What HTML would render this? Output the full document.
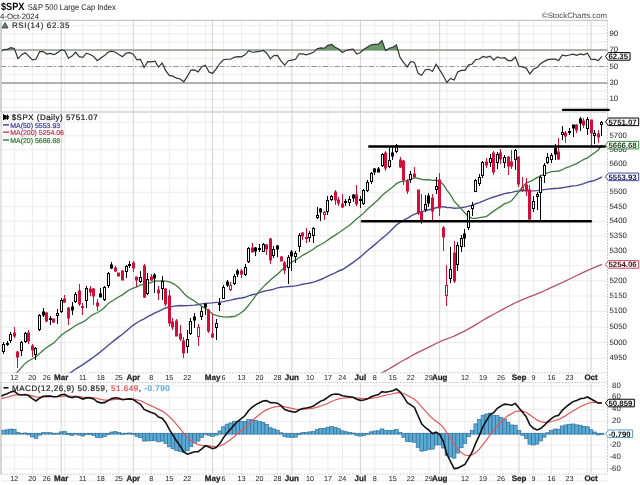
<!DOCTYPE html><html><head><meta charset="utf-8"><style>html,body{margin:0;padding:0;background:#fff;overflow:hidden}svg{display:block;filter:blur(0.5px)}</style></head><body><svg width="640" height="485" viewBox="0 0 640 485" text-rendering="geometricPrecision"><rect x="0" y="0" width="640" height="485" fill="#fff"/><line x1="1.0" y1="107.40" x2="607.5" y2="107.40" stroke="#ebebeb" stroke-width="1"/><line x1="1.0" y1="99.22" x2="607.5" y2="99.22" stroke="#ebebeb" stroke-width="1"/><line x1="1.0" y1="91.04" x2="607.5" y2="91.04" stroke="#ebebeb" stroke-width="1"/><line x1="1.0" y1="82.86" x2="607.5" y2="82.86" stroke="#ebebeb" stroke-width="1"/><line x1="1.0" y1="74.68" x2="607.5" y2="74.68" stroke="#ebebeb" stroke-width="1"/><line x1="1.0" y1="66.50" x2="607.5" y2="66.50" stroke="#ebebeb" stroke-width="1"/><line x1="1.0" y1="58.32" x2="607.5" y2="58.32" stroke="#ebebeb" stroke-width="1"/><line x1="1.0" y1="50.14" x2="607.5" y2="50.14" stroke="#ebebeb" stroke-width="1"/><line x1="1.0" y1="41.96" x2="607.5" y2="41.96" stroke="#ebebeb" stroke-width="1"/><line x1="1.0" y1="33.78" x2="607.5" y2="33.78" stroke="#ebebeb" stroke-width="1"/><line x1="1.0" y1="25.60" x2="607.5" y2="25.60" stroke="#ebebeb" stroke-width="1"/><line x1="14.35" y1="20.3" x2="14.35" y2="112.0" stroke="#ebebeb" stroke-width="1"/><line x1="32.37" y1="20.3" x2="32.37" y2="112.0" stroke="#ebebeb" stroke-width="1"/><line x1="46.79" y1="20.3" x2="46.79" y2="112.0" stroke="#ebebeb" stroke-width="1"/><line x1="64.81" y1="20.3" x2="64.81" y2="112.0" stroke="#ebebeb" stroke-width="1"/><line x1="82.84" y1="20.3" x2="82.84" y2="112.0" stroke="#ebebeb" stroke-width="1"/><line x1="100.86" y1="20.3" x2="100.86" y2="112.0" stroke="#ebebeb" stroke-width="1"/><line x1="118.88" y1="20.3" x2="118.88" y2="112.0" stroke="#ebebeb" stroke-width="1"/><line x1="151.32" y1="20.3" x2="151.32" y2="112.0" stroke="#ebebeb" stroke-width="1"/><line x1="169.34" y1="20.3" x2="169.34" y2="112.0" stroke="#ebebeb" stroke-width="1"/><line x1="187.37" y1="20.3" x2="187.37" y2="112.0" stroke="#ebebeb" stroke-width="1"/><line x1="205.39" y1="20.3" x2="205.39" y2="112.0" stroke="#ebebeb" stroke-width="1"/><line x1="223.41" y1="20.3" x2="223.41" y2="112.0" stroke="#ebebeb" stroke-width="1"/><line x1="241.43" y1="20.3" x2="241.43" y2="112.0" stroke="#ebebeb" stroke-width="1"/><line x1="259.46" y1="20.3" x2="259.46" y2="112.0" stroke="#ebebeb" stroke-width="1"/><line x1="277.48" y1="20.3" x2="277.48" y2="112.0" stroke="#ebebeb" stroke-width="1"/><line x1="309.92" y1="20.3" x2="309.92" y2="112.0" stroke="#ebebeb" stroke-width="1"/><line x1="327.94" y1="20.3" x2="327.94" y2="112.0" stroke="#ebebeb" stroke-width="1"/><line x1="342.36" y1="20.3" x2="342.36" y2="112.0" stroke="#ebebeb" stroke-width="1"/><line x1="374.80" y1="20.3" x2="374.80" y2="112.0" stroke="#ebebeb" stroke-width="1"/><line x1="392.82" y1="20.3" x2="392.82" y2="112.0" stroke="#ebebeb" stroke-width="1"/><line x1="410.85" y1="20.3" x2="410.85" y2="112.0" stroke="#ebebeb" stroke-width="1"/><line x1="428.87" y1="20.3" x2="428.87" y2="112.0" stroke="#ebebeb" stroke-width="1"/><line x1="446.89" y1="20.3" x2="446.89" y2="112.0" stroke="#ebebeb" stroke-width="1"/><line x1="464.91" y1="20.3" x2="464.91" y2="112.0" stroke="#ebebeb" stroke-width="1"/><line x1="482.94" y1="20.3" x2="482.94" y2="112.0" stroke="#ebebeb" stroke-width="1"/><line x1="500.96" y1="20.3" x2="500.96" y2="112.0" stroke="#ebebeb" stroke-width="1"/><line x1="533.40" y1="20.3" x2="533.40" y2="112.0" stroke="#ebebeb" stroke-width="1"/><line x1="551.42" y1="20.3" x2="551.42" y2="112.0" stroke="#ebebeb" stroke-width="1"/><line x1="569.44" y1="20.3" x2="569.44" y2="112.0" stroke="#ebebeb" stroke-width="1"/><line x1="587.47" y1="20.3" x2="587.47" y2="112.0" stroke="#ebebeb" stroke-width="1"/><line x1="61.21" y1="20.3" x2="61.21" y2="112.0" stroke="#d2d2d2" stroke-width="1"/><line x1="133.30" y1="20.3" x2="133.30" y2="112.0" stroke="#d2d2d2" stroke-width="1"/><line x1="212.60" y1="20.3" x2="212.60" y2="112.0" stroke="#d2d2d2" stroke-width="1"/><line x1="291.90" y1="20.3" x2="291.90" y2="112.0" stroke="#d2d2d2" stroke-width="1"/><line x1="360.38" y1="20.3" x2="360.38" y2="112.0" stroke="#d2d2d2" stroke-width="1"/><line x1="439.68" y1="20.3" x2="439.68" y2="112.0" stroke="#d2d2d2" stroke-width="1"/><line x1="518.98" y1="20.3" x2="518.98" y2="112.0" stroke="#d2d2d2" stroke-width="1"/><line x1="591.07" y1="20.3" x2="591.07" y2="112.0" stroke="#d2d2d2" stroke-width="1"/><line x1="1.0" y1="50" x2="607.5" y2="50" stroke="#b0b0b0" stroke-width="2"/><line x1="1.0" y1="83" x2="607.5" y2="83" stroke="#b0b0b0" stroke-width="2"/><line x1="1.0" y1="66.50" x2="607.5" y2="66.50" stroke="#909090" stroke-width="1" stroke-dasharray="5,2.5,1.5,2.5"/><clipPath id="c70"><rect x="1.0" y="20.3" width="606.5" height="29.84"/></clipPath><clipPath id="crsi"><rect x="1.0" y="20.3" width="606.5" height="91.7"/></clipPath><g clip-path="url(#crsi)"><polygon clip-path="url(#c70)" points="-0.07,50.14 -0.07,52.42 3.54,49.64 7.14,49.45 10.75,47.61 14.35,48.42 17.95,58.74 21.56,54.92 25.16,52.85 28.77,56.09 32.37,59.88 35.98,59.32 39.58,51.64 43.19,51.54 46.79,54.10 50.40,53.48 54.00,54.68 57.60,52.64 61.21,49.82 64.81,50.78 68.42,58.26 72.02,56.10 75.63,52.26 79.23,56.66 82.84,57.39 86.44,53.12 90.04,54.45 93.65,56.46 97.25,60.74 100.86,57.91 104.46,55.57 108.07,52.27 111.67,51.16 115.28,52.23 118.88,54.60 122.48,56.74 126.09,53.06 129.69,52.61 133.30,54.29 136.90,59.94 140.51,59.36 144.11,67.54 147.72,61.66 151.32,61.90 154.93,61.14 158.53,67.07 162.13,63.04 165.74,70.62 169.34,75.42 172.95,76.16 176.55,78.20 180.16,78.96 183.76,81.80 187.37,76.40 190.97,70.04 194.57,69.93 198.18,71.92 201.78,66.70 205.39,65.19 208.99,72.12 212.60,73.42 216.20,68.89 219.81,63.53 223.41,59.74 227.02,59.26 230.62,59.26 234.22,57.32 237.83,56.69 241.43,56.85 245.04,54.87 248.64,50.71 252.25,52.23 255.85,51.80 259.46,51.46 263.06,50.48 266.67,52.88 270.27,58.86 273.87,55.53 277.48,55.41 281.08,61.09 284.69,65.09 288.29,60.72 291.90,60.15 295.50,59.34 299.11,53.77 302.71,53.93 306.31,54.89 309.92,53.64 313.52,52.35 317.13,48.74 320.73,47.84 324.34,48.25 327.94,45.36 331.55,44.50 335.15,47.33 338.75,49.08 342.36,52.45 345.96,50.47 349.57,49.70 353.17,49.25 356.78,54.12 360.38,52.53 363.99,49.24 367.59,46.93 371.20,44.75 374.80,44.37 378.40,44.07 382.01,40.59 385.61,50.58 389.22,48.30 392.82,47.21 396.43,44.93 400.03,57.38 403.64,62.69 407.24,66.89 410.85,61.45 414.45,62.38 418.05,73.40 421.66,75.24 425.26,69.72 428.87,69.33 432.47,71.41 436.08,64.21 439.68,69.82 443.29,75.68 446.89,82.41 450.49,78.37 454.10,79.95 457.70,71.90 461.31,70.42 464.91,70.41 468.52,65.09 472.12,63.96 475.73,59.53 479.33,59.01 482.94,56.51 486.54,57.34 490.14,56.19 493.75,60.09 497.35,56.83 500.96,58.22 504.56,57.74 508.17,60.53 511.77,60.55 515.38,57.11 518.98,66.33 522.58,66.92 526.19,68.07 529.79,73.91 533.40,69.30 537.00,67.62 540.61,63.81 544.21,61.34 547.82,59.62 551.42,59.21 555.02,59.12 558.63,60.61 562.23,54.89 565.84,55.95 569.44,55.03 573.05,54.19 576.65,55.37 580.26,53.91 583.86,54.78 587.47,53.15 591.07,59.51 594.67,59.45 598.28,60.58 601.88,56.40 601.88,50.14" fill="#6a9a6a"/><polyline points="-0.07,52.42 3.54,49.64 7.14,49.45 10.75,47.61 14.35,48.42 17.95,58.74 21.56,54.92 25.16,52.85 28.77,56.09 32.37,59.88 35.98,59.32 39.58,51.64 43.19,51.54 46.79,54.10 50.40,53.48 54.00,54.68 57.60,52.64 61.21,49.82 64.81,50.78 68.42,58.26 72.02,56.10 75.63,52.26 79.23,56.66 82.84,57.39 86.44,53.12 90.04,54.45 93.65,56.46 97.25,60.74 100.86,57.91 104.46,55.57 108.07,52.27 111.67,51.16 115.28,52.23 118.88,54.60 122.48,56.74 126.09,53.06 129.69,52.61 133.30,54.29 136.90,59.94 140.51,59.36 144.11,67.54 147.72,61.66 151.32,61.90 154.93,61.14 158.53,67.07 162.13,63.04 165.74,70.62 169.34,75.42 172.95,76.16 176.55,78.20 180.16,78.96 183.76,81.80 187.37,76.40 190.97,70.04 194.57,69.93 198.18,71.92 201.78,66.70 205.39,65.19 208.99,72.12 212.60,73.42 216.20,68.89 219.81,63.53 223.41,59.74 227.02,59.26 230.62,59.26 234.22,57.32 237.83,56.69 241.43,56.85 245.04,54.87 248.64,50.71 252.25,52.23 255.85,51.80 259.46,51.46 263.06,50.48 266.67,52.88 270.27,58.86 273.87,55.53 277.48,55.41 281.08,61.09 284.69,65.09 288.29,60.72 291.90,60.15 295.50,59.34 299.11,53.77 302.71,53.93 306.31,54.89 309.92,53.64 313.52,52.35 317.13,48.74 320.73,47.84 324.34,48.25 327.94,45.36 331.55,44.50 335.15,47.33 338.75,49.08 342.36,52.45 345.96,50.47 349.57,49.70 353.17,49.25 356.78,54.12 360.38,52.53 363.99,49.24 367.59,46.93 371.20,44.75 374.80,44.37 378.40,44.07 382.01,40.59 385.61,50.58 389.22,48.30 392.82,47.21 396.43,44.93 400.03,57.38 403.64,62.69 407.24,66.89 410.85,61.45 414.45,62.38 418.05,73.40 421.66,75.24 425.26,69.72 428.87,69.33 432.47,71.41 436.08,64.21 439.68,69.82 443.29,75.68 446.89,82.41 450.49,78.37 454.10,79.95 457.70,71.90 461.31,70.42 464.91,70.41 468.52,65.09 472.12,63.96 475.73,59.53 479.33,59.01 482.94,56.51 486.54,57.34 490.14,56.19 493.75,60.09 497.35,56.83 500.96,58.22 504.56,57.74 508.17,60.53 511.77,60.55 515.38,57.11 518.98,66.33 522.58,66.92 526.19,68.07 529.79,73.91 533.40,69.30 537.00,67.62 540.61,63.81 544.21,61.34 547.82,59.62 551.42,59.21 555.02,59.12 558.63,60.61 562.23,54.89 565.84,55.95 569.44,55.03 573.05,54.19 576.65,55.37 580.26,53.91 583.86,54.78 587.47,53.15 591.07,59.51 594.67,59.45 598.28,60.58 601.88,56.40" fill="none" stroke="#333" stroke-width="1.2"/></g><path d="M607.5,20.3 H1.0 V112.0 H607.5" fill="none" stroke="#b8b8b8" stroke-width="1"/><text x="609.5" y="35.88" font-family="Liberation Sans, sans-serif" font-size="7.8" fill="#222">90</text><text x="609.5" y="52.24" font-family="Liberation Sans, sans-serif" font-size="7.8" fill="#222">70</text><text x="609.5" y="68.60" font-family="Liberation Sans, sans-serif" font-size="7.8" fill="#222">50</text><text x="609.5" y="84.96" font-family="Liberation Sans, sans-serif" font-size="7.8" fill="#222">30</text><text x="609.5" y="101.32" font-family="Liberation Sans, sans-serif" font-size="7.8" fill="#222">10</text><line x1="1.0" y1="358.50" x2="607.5" y2="358.50" stroke="#ebebeb" stroke-width="1"/><line x1="1.0" y1="342.65" x2="607.5" y2="342.65" stroke="#ebebeb" stroke-width="1"/><line x1="1.0" y1="326.95" x2="607.5" y2="326.95" stroke="#ebebeb" stroke-width="1"/><line x1="1.0" y1="311.40" x2="607.5" y2="311.40" stroke="#ebebeb" stroke-width="1"/><line x1="1.0" y1="296.01" x2="607.5" y2="296.01" stroke="#ebebeb" stroke-width="1"/><line x1="1.0" y1="280.76" x2="607.5" y2="280.76" stroke="#ebebeb" stroke-width="1"/><line x1="1.0" y1="265.66" x2="607.5" y2="265.66" stroke="#ebebeb" stroke-width="1"/><line x1="1.0" y1="250.71" x2="607.5" y2="250.71" stroke="#ebebeb" stroke-width="1"/><line x1="1.0" y1="235.89" x2="607.5" y2="235.89" stroke="#ebebeb" stroke-width="1"/><line x1="1.0" y1="221.21" x2="607.5" y2="221.21" stroke="#ebebeb" stroke-width="1"/><line x1="1.0" y1="206.67" x2="607.5" y2="206.67" stroke="#ebebeb" stroke-width="1"/><line x1="1.0" y1="192.26" x2="607.5" y2="192.26" stroke="#ebebeb" stroke-width="1"/><line x1="1.0" y1="177.98" x2="607.5" y2="177.98" stroke="#ebebeb" stroke-width="1"/><line x1="1.0" y1="163.83" x2="607.5" y2="163.83" stroke="#ebebeb" stroke-width="1"/><line x1="1.0" y1="149.81" x2="607.5" y2="149.81" stroke="#ebebeb" stroke-width="1"/><line x1="1.0" y1="135.90" x2="607.5" y2="135.90" stroke="#ebebeb" stroke-width="1"/><line x1="1.0" y1="122.12" x2="607.5" y2="122.12" stroke="#ebebeb" stroke-width="1"/><line x1="14.35" y1="112.0" x2="14.35" y2="372.9" stroke="#ebebeb" stroke-width="1"/><line x1="32.37" y1="112.0" x2="32.37" y2="372.9" stroke="#ebebeb" stroke-width="1"/><line x1="46.79" y1="112.0" x2="46.79" y2="372.9" stroke="#ebebeb" stroke-width="1"/><line x1="64.81" y1="112.0" x2="64.81" y2="372.9" stroke="#ebebeb" stroke-width="1"/><line x1="82.84" y1="112.0" x2="82.84" y2="372.9" stroke="#ebebeb" stroke-width="1"/><line x1="100.86" y1="112.0" x2="100.86" y2="372.9" stroke="#ebebeb" stroke-width="1"/><line x1="118.88" y1="112.0" x2="118.88" y2="372.9" stroke="#ebebeb" stroke-width="1"/><line x1="151.32" y1="112.0" x2="151.32" y2="372.9" stroke="#ebebeb" stroke-width="1"/><line x1="169.34" y1="112.0" x2="169.34" y2="372.9" stroke="#ebebeb" stroke-width="1"/><line x1="187.37" y1="112.0" x2="187.37" y2="372.9" stroke="#ebebeb" stroke-width="1"/><line x1="205.39" y1="112.0" x2="205.39" y2="372.9" stroke="#ebebeb" stroke-width="1"/><line x1="223.41" y1="112.0" x2="223.41" y2="372.9" stroke="#ebebeb" stroke-width="1"/><line x1="241.43" y1="112.0" x2="241.43" y2="372.9" stroke="#ebebeb" stroke-width="1"/><line x1="259.46" y1="112.0" x2="259.46" y2="372.9" stroke="#ebebeb" stroke-width="1"/><line x1="277.48" y1="112.0" x2="277.48" y2="372.9" stroke="#ebebeb" stroke-width="1"/><line x1="309.92" y1="112.0" x2="309.92" y2="372.9" stroke="#ebebeb" stroke-width="1"/><line x1="327.94" y1="112.0" x2="327.94" y2="372.9" stroke="#ebebeb" stroke-width="1"/><line x1="342.36" y1="112.0" x2="342.36" y2="372.9" stroke="#ebebeb" stroke-width="1"/><line x1="374.80" y1="112.0" x2="374.80" y2="372.9" stroke="#ebebeb" stroke-width="1"/><line x1="392.82" y1="112.0" x2="392.82" y2="372.9" stroke="#ebebeb" stroke-width="1"/><line x1="410.85" y1="112.0" x2="410.85" y2="372.9" stroke="#ebebeb" stroke-width="1"/><line x1="428.87" y1="112.0" x2="428.87" y2="372.9" stroke="#ebebeb" stroke-width="1"/><line x1="446.89" y1="112.0" x2="446.89" y2="372.9" stroke="#ebebeb" stroke-width="1"/><line x1="464.91" y1="112.0" x2="464.91" y2="372.9" stroke="#ebebeb" stroke-width="1"/><line x1="482.94" y1="112.0" x2="482.94" y2="372.9" stroke="#ebebeb" stroke-width="1"/><line x1="500.96" y1="112.0" x2="500.96" y2="372.9" stroke="#ebebeb" stroke-width="1"/><line x1="533.40" y1="112.0" x2="533.40" y2="372.9" stroke="#ebebeb" stroke-width="1"/><line x1="551.42" y1="112.0" x2="551.42" y2="372.9" stroke="#ebebeb" stroke-width="1"/><line x1="569.44" y1="112.0" x2="569.44" y2="372.9" stroke="#ebebeb" stroke-width="1"/><line x1="587.47" y1="112.0" x2="587.47" y2="372.9" stroke="#ebebeb" stroke-width="1"/><line x1="61.21" y1="112.0" x2="61.21" y2="372.9" stroke="#d2d2d2" stroke-width="1"/><line x1="133.30" y1="112.0" x2="133.30" y2="372.9" stroke="#d2d2d2" stroke-width="1"/><line x1="212.60" y1="112.0" x2="212.60" y2="372.9" stroke="#d2d2d2" stroke-width="1"/><line x1="291.90" y1="112.0" x2="291.90" y2="372.9" stroke="#d2d2d2" stroke-width="1"/><line x1="360.38" y1="112.0" x2="360.38" y2="372.9" stroke="#d2d2d2" stroke-width="1"/><line x1="439.68" y1="112.0" x2="439.68" y2="372.9" stroke="#d2d2d2" stroke-width="1"/><line x1="518.98" y1="112.0" x2="518.98" y2="372.9" stroke="#d2d2d2" stroke-width="1"/><line x1="591.07" y1="112.0" x2="591.07" y2="372.9" stroke="#d2d2d2" stroke-width="1"/><clipPath id="cpr"><rect x="1.0" y="112.0" width="606.5" height="260.9"/></clipPath><g clip-path="url(#cpr)"><polyline points="248.64,430.25 252.25,429.05 255.85,427.74 259.46,426.40 263.06,424.99 266.67,423.68 270.27,422.41 273.87,421.02 277.48,419.63 281.08,418.30 284.69,417.07 288.29,415.68 291.90,414.23 295.50,412.71 299.11,411.08 302.71,409.51 306.31,407.94 309.92,406.42 313.52,404.77 317.13,403.11 320.73,401.47 324.34,399.94 327.94,398.37 331.55,396.77 335.15,395.21 338.75,393.63 342.36,392.03 345.96,390.38 349.57,388.72 353.17,387.10 356.78,385.48 360.38,383.85 363.99,382.22 367.59,380.47 371.20,378.67 374.80,376.85 378.40,374.95 382.01,372.85 385.61,370.82 389.22,368.77 392.82,366.59 396.43,364.37 400.03,362.31 403.64,360.30 407.24,358.36 410.85,356.23 414.45,354.18 418.05,352.32 421.66,350.59 425.26,348.81 428.87,347.06 432.47,345.38 436.08,343.53 439.68,341.77 443.29,340.23 446.89,338.95 450.49,337.50 454.10,336.05 457.70,334.33 461.31,332.56 464.91,330.84 468.52,328.89 472.12,326.83 475.73,324.60 479.33,322.44 482.94,320.24 486.54,318.13 490.14,316.10 493.75,314.22 497.35,312.26 500.96,310.34 504.56,308.42 508.17,306.50 511.77,304.69 515.38,302.78 518.98,301.19 522.58,299.63 526.19,298.10 529.79,296.73 533.40,295.32 537.00,293.85 540.61,292.33 544.21,290.74 547.82,289.10 551.42,287.46 555.02,285.81 558.63,284.21 562.23,282.51 565.84,280.79 569.44,279.04 573.05,277.25 576.65,275.53 580.26,273.81 583.86,272.12 587.47,270.44 591.07,268.93 594.67,267.44 598.28,265.96 601.88,264.44" fill="none" stroke="#b85068" stroke-width="1.3"/><polyline points="-0.07,425.97 3.54,423.08 7.14,420.11 10.75,416.98 14.35,413.87 17.95,411.33 21.56,408.65 25.16,405.63 28.77,402.75 32.37,399.96 35.98,397.37 39.58,394.22 43.19,391.18 46.79,388.41 50.40,386.00 54.00,383.73 57.60,381.29 61.21,378.73 64.81,376.39 68.42,373.94 72.02,371.63 75.63,369.05 79.23,366.81 82.84,364.65 86.44,362.15 90.04,359.62 93.65,357.02 97.25,354.40 100.86,351.47 104.46,348.42 108.07,345.50 111.67,342.44 115.28,339.60 118.88,336.84 122.48,334.21 126.09,331.18 129.69,327.95 133.30,325.06 136.90,322.78 140.51,320.53 144.11,318.77 147.72,316.69 151.32,314.78 154.93,312.80 158.53,311.36 162.13,309.66 165.74,307.95 169.34,306.99 172.95,306.41 176.55,305.93 180.16,305.57 183.76,305.75 187.37,305.67 190.97,305.40 194.57,305.09 198.18,304.50 201.78,303.89 205.39,303.36 208.99,303.17 212.60,302.91 216.20,302.40 219.81,302.15 223.41,301.59 227.02,300.86 230.62,300.19 234.22,299.30 237.83,298.52 241.43,298.01 245.04,297.30 248.64,295.89 252.25,294.71 255.85,293.82 259.46,292.69 263.06,291.45 266.67,290.64 270.27,290.02 273.87,289.08 277.48,287.92 281.08,287.21 284.69,286.86 288.29,286.54 291.90,286.28 295.50,285.93 299.11,285.11 302.71,284.20 306.31,283.60 309.92,282.95 313.52,282.15 317.13,280.85 320.73,279.50 324.34,277.78 327.94,276.15 331.55,274.43 335.15,272.84 338.75,271.00 342.36,269.50 345.96,267.42 349.57,264.92 353.17,262.33 356.78,259.70 360.38,256.92 363.99,253.69 367.59,250.55 371.20,247.60 374.80,244.62 378.40,241.49 382.01,238.33 385.61,235.57 389.22,232.15 392.82,228.55 396.43,225.01 400.03,222.32 403.64,220.19 407.24,218.34 410.85,216.14 414.45,214.16 418.05,212.97 421.66,211.93 425.26,210.70 428.87,209.80 432.47,208.99 436.08,207.72 439.68,206.92 443.29,206.77 446.89,207.47 450.49,207.63 454.10,208.24 457.70,208.17 461.31,207.72 464.91,207.09 468.52,206.18 472.12,205.18 475.73,203.73 479.33,202.57 482.94,201.10 486.54,199.65 490.14,198.16 493.75,197.03 497.35,195.80 500.96,194.75 504.56,193.63 508.17,192.95 511.77,192.35 515.38,191.34 518.98,190.98 522.58,190.56 526.19,190.37 529.79,190.76 533.40,190.83 537.00,190.63 540.61,190.18 544.21,189.68 547.82,189.17 551.42,188.79 555.02,188.44 558.63,188.20 562.23,187.75 565.84,187.07 569.44,186.48 573.05,185.90 576.65,185.59 580.26,184.69 583.86,183.59 587.47,182.12 591.07,181.29 594.67,180.42 598.28,178.87 601.88,176.86" fill="none" stroke="#4a4a94" stroke-width="1.4"/><polyline points="-0.07,389.75 3.54,385.87 7.14,382.40 10.75,378.42 14.35,374.58 17.95,371.57 21.56,367.37 25.16,363.39 28.77,360.74 32.37,358.75 35.98,356.88 39.58,353.41 43.19,350.32 46.79,347.49 50.40,345.11 54.00,342.83 57.60,338.88 61.21,335.25 64.81,332.54 68.42,330.41 72.02,328.06 75.63,325.52 79.23,323.56 82.84,322.14 86.44,319.75 90.04,316.46 93.65,314.13 97.25,312.78 100.86,310.55 104.46,307.42 108.07,303.67 111.67,301.30 115.28,299.07 118.88,296.79 122.48,294.86 126.09,292.13 129.69,289.72 133.30,288.09 136.90,286.95 140.51,284.93 144.11,284.28 147.72,283.57 151.32,282.37 154.93,280.98 158.53,281.20 162.13,280.69 165.74,281.10 169.34,281.94 172.95,283.42 176.55,285.80 180.16,289.05 183.76,293.24 187.37,296.67 190.97,298.93 194.57,300.96 198.18,304.03 201.78,306.41 205.39,308.38 208.99,311.01 212.60,314.00 216.20,315.29 219.81,316.47 223.41,316.81 227.02,317.15 230.62,316.74 234.22,316.50 237.83,314.96 241.43,312.49 245.04,309.47 248.64,305.06 252.25,300.66 255.85,295.50 259.46,290.95 263.06,287.13 266.67,283.55 270.27,280.22 273.87,277.11 277.48,274.24 281.08,270.75 284.69,267.48 288.29,264.28 291.90,261.94 295.50,260.28 299.11,257.79 302.71,255.33 306.31,253.34 309.92,251.28 313.52,248.99 317.13,246.40 320.73,244.54 324.34,242.55 327.94,240.03 331.55,237.39 335.15,235.15 338.75,232.83 342.36,230.18 345.96,227.77 349.57,225.25 353.17,222.09 356.78,218.80 360.38,215.92 363.99,212.64 367.59,209.08 371.20,205.99 374.80,202.81 378.40,199.49 382.01,195.56 385.61,192.56 389.22,189.77 392.82,186.95 396.43,183.58 400.03,181.94 403.64,181.12 407.24,180.67 410.85,179.25 414.45,177.71 418.05,178.31 421.66,179.43 425.26,179.77 428.87,179.73 432.47,180.28 436.08,180.09 439.68,181.37 443.29,184.52 446.89,190.05 450.49,194.88 454.10,201.13 457.70,204.97 461.31,208.89 464.91,213.05 468.52,216.44 472.12,218.38 475.73,218.40 479.33,217.68 482.94,217.04 486.54,216.44 490.14,213.62 493.75,211.13 497.35,208.59 500.96,206.37 504.56,203.63 508.17,202.62 511.77,200.52 515.38,196.18 518.98,191.26 522.58,187.25 526.19,182.91 529.79,181.64 533.40,179.83 537.00,177.68 540.61,175.98 544.21,173.99 547.82,172.81 551.42,171.70 555.02,171.32 558.63,171.02 562.23,169.71 565.84,167.85 569.44,166.66 573.05,165.03 576.65,163.67 580.26,161.51 583.86,159.45 587.47,157.85 591.07,155.33 594.67,152.68 598.28,149.93 601.88,145.15" fill="none" stroke="#3f7d3f" stroke-width="1.3"/><rect x="3" y="342" width="1" height="12" fill="#000"/><rect x="2.5" y="344.5" width="2" height="7" fill="#fff" stroke="#000" stroke-width="1"/><rect x="7" y="341" width="1" height="5" fill="#000"/><rect x="6.5" y="343.5" width="2" height="1" fill="#fff" stroke="#000" stroke-width="1"/><rect x="10" y="332" width="1" height="11" fill="#000"/><rect x="9.5" y="334.5" width="2" height="6" fill="#fff" stroke="#000" stroke-width="1"/><rect x="14" y="327" width="1" height="11" fill="#d0103a"/><rect x="13" y="332.5" width="3" height="4" fill="#d0103a"/><rect x="17" y="351" width="1" height="17" fill="#d0103a"/><rect x="16" y="351.5" width="3" height="6" fill="#d0103a"/><rect x="21" y="341" width="1" height="15" fill="#000"/><rect x="20.5" y="342.5" width="2" height="8" fill="#fff" stroke="#000" stroke-width="1"/><rect x="25" y="332" width="1" height="11" fill="#000"/><rect x="24.5" y="333.5" width="2" height="8" fill="#fff" stroke="#000" stroke-width="1"/><rect x="28" y="330" width="1" height="14" fill="#d0103a"/><rect x="27" y="332.5" width="3" height="9" fill="#d0103a"/><rect x="32" y="344" width="1" height="13" fill="#d0103a"/><rect x="31" y="345.5" width="3" height="5" fill="#d0103a"/><rect x="35" y="347" width="1" height="13" fill="#000"/><rect x="34.5" y="348.5" width="2" height="6" fill="#fff" stroke="#000" stroke-width="1"/><rect x="39" y="314" width="1" height="17" fill="#000"/><rect x="38.5" y="315.5" width="2" height="14" fill="#fff" stroke="#000" stroke-width="1"/><rect x="43" y="308" width="1" height="9" fill="#000"/><rect x="42" y="311.5" width="3" height="4" fill="#000"/><rect x="46" y="312" width="1" height="10" fill="#d0103a"/><rect x="45" y="312.5" width="3" height="9" fill="#d0103a"/><rect x="50" y="316" width="1" height="9" fill="#000"/><rect x="49.5" y="318.5" width="2" height="1" fill="#fff" stroke="#000" stroke-width="1"/><rect x="53" y="319" width="1" height="4" fill="#d0103a"/><rect x="52" y="318.5" width="3" height="4" fill="#d0103a"/><rect x="57" y="309" width="1" height="15" fill="#000"/><rect x="56.5" y="313.5" width="2" height="2" fill="#fff" stroke="#000" stroke-width="1"/><rect x="61" y="298" width="1" height="15" fill="#000"/><rect x="60.5" y="300.5" width="2" height="11" fill="#fff" stroke="#000" stroke-width="1"/><rect x="64" y="295" width="1" height="8" fill="#d0103a"/><rect x="63" y="298.5" width="3" height="4" fill="#d0103a"/><rect x="68" y="307" width="1" height="18" fill="#d0103a"/><rect x="67" y="307.5" width="3" height="11" fill="#d0103a"/><rect x="72" y="302" width="1" height="13" fill="#000"/><rect x="71" y="306.5" width="3" height="4" fill="#000"/><rect x="75" y="292" width="1" height="11" fill="#000"/><rect x="74.5" y="294.5" width="2" height="7" fill="#fff" stroke="#000" stroke-width="1"/><rect x="79" y="284" width="1" height="22" fill="#d0103a"/><rect x="78" y="290.5" width="3" height="14" fill="#d0103a"/><rect x="82" y="303" width="1" height="12" fill="#d0103a"/><rect x="81.5" y="306.5" width="2" height="1" fill="#fff" stroke="#d0103a" stroke-width="1"/><rect x="86" y="286" width="1" height="22" fill="#000"/><rect x="85.5" y="288.5" width="2" height="12" fill="#fff" stroke="#000" stroke-width="1"/><rect x="90" y="286" width="1" height="10" fill="#d0103a"/><rect x="89" y="288.5" width="3" height="4" fill="#d0103a"/><rect x="93" y="288" width="1" height="17" fill="#d0103a"/><rect x="92" y="288.5" width="3" height="8" fill="#d0103a"/><rect x="97" y="299" width="1" height="12" fill="#d0103a"/><rect x="96" y="302.5" width="3" height="4" fill="#d0103a"/><rect x="100" y="288" width="1" height="9" fill="#000"/><rect x="99" y="293.5" width="3" height="4" fill="#000"/><rect x="104" y="286" width="1" height="15" fill="#000"/><rect x="103.5" y="287.5" width="2" height="12" fill="#fff" stroke="#000" stroke-width="1"/><rect x="108" y="272" width="1" height="16" fill="#000"/><rect x="107.5" y="273.5" width="2" height="12" fill="#fff" stroke="#000" stroke-width="1"/><rect x="111" y="262" width="1" height="7" fill="#000"/><rect x="110" y="264.5" width="3" height="4" fill="#000"/><rect x="115" y="266" width="1" height="6" fill="#d0103a"/><rect x="114" y="267.5" width="3" height="4" fill="#d0103a"/><rect x="118" y="273" width="1" height="3" fill="#d0103a"/><rect x="117" y="272.5" width="3" height="4" fill="#d0103a"/><rect x="122" y="270" width="1" height="10" fill="#d0103a"/><rect x="121" y="270.5" width="3" height="10" fill="#d0103a"/><rect x="126" y="265" width="1" height="13" fill="#000"/><rect x="125.5" y="266.5" width="2" height="5" fill="#fff" stroke="#000" stroke-width="1"/><rect x="129" y="261" width="1" height="7" fill="#000"/><rect x="128.5" y="264.5" width="2" height="1" fill="#fff" stroke="#000" stroke-width="1"/><rect x="133" y="261" width="1" height="11" fill="#d0103a"/><rect x="132" y="262.5" width="3" height="6" fill="#d0103a"/><rect x="136" y="277" width="1" height="10" fill="#d0103a"/><rect x="135" y="276.5" width="3" height="4" fill="#d0103a"/><rect x="140" y="271" width="1" height="12" fill="#000"/><rect x="139.5" y="277.5" width="2" height="4" fill="#fff" stroke="#000" stroke-width="1"/><rect x="144" y="264" width="1" height="34" fill="#d0103a"/><rect x="143" y="265.5" width="3" height="32" fill="#d0103a"/><rect x="147" y="273" width="1" height="22" fill="#000"/><rect x="146.5" y="279.5" width="2" height="14" fill="#fff" stroke="#000" stroke-width="1"/><rect x="151" y="274" width="1" height="7" fill="#d0103a"/><rect x="150" y="276.5" width="3" height="4" fill="#d0103a"/><rect x="154" y="273" width="1" height="20" fill="#000"/><rect x="153" y="274.5" width="3" height="4" fill="#000"/><rect x="158" y="286" width="1" height="14" fill="#d0103a"/><rect x="157" y="289.5" width="3" height="4" fill="#d0103a"/><rect x="162" y="276" width="1" height="24" fill="#000"/><rect x="161.5" y="281.5" width="2" height="7" fill="#fff" stroke="#000" stroke-width="1"/><rect x="165" y="288" width="1" height="18" fill="#d0103a"/><rect x="164" y="288.5" width="3" height="16" fill="#d0103a"/><rect x="169" y="290" width="1" height="36" fill="#d0103a"/><rect x="168" y="295.5" width="3" height="28" fill="#d0103a"/><rect x="172" y="318" width="1" height="12" fill="#d0103a"/><rect x="171" y="321.5" width="3" height="6" fill="#d0103a"/><rect x="176" y="319" width="1" height="16" fill="#d0103a"/><rect x="175" y="320.5" width="3" height="16" fill="#d0103a"/><rect x="180" y="325" width="1" height="16" fill="#d0103a"/><rect x="179" y="333.5" width="3" height="6" fill="#d0103a"/><rect x="183" y="337" width="1" height="21" fill="#d0103a"/><rect x="182" y="340.5" width="3" height="13" fill="#d0103a"/><rect x="187" y="330" width="1" height="23" fill="#000"/><rect x="186.5" y="339.5" width="2" height="7" fill="#fff" stroke="#000" stroke-width="1"/><rect x="190" y="318" width="1" height="17" fill="#000"/><rect x="189.5" y="321.5" width="2" height="12" fill="#fff" stroke="#000" stroke-width="1"/><rect x="194" y="313" width="1" height="15" fill="#000"/><rect x="193" y="316.5" width="3" height="4" fill="#000"/><rect x="198" y="324" width="1" height="22" fill="#d0103a"/><rect x="197.5" y="327.5" width="2" height="9" fill="#fff" stroke="#d0103a" stroke-width="1"/><rect x="201" y="307" width="1" height="13" fill="#000"/><rect x="200.5" y="311.5" width="2" height="5" fill="#fff" stroke="#000" stroke-width="1"/><rect x="205" y="304" width="1" height="11" fill="#000"/><rect x="204" y="303.5" width="3" height="4" fill="#000"/><rect x="208" y="309" width="1" height="24" fill="#d0103a"/><rect x="207" y="309.5" width="3" height="22" fill="#d0103a"/><rect x="212" y="314" width="1" height="24" fill="#d0103a"/><rect x="211" y="333.5" width="3" height="4" fill="#d0103a"/><rect x="216" y="319" width="1" height="21" fill="#000"/><rect x="215.5" y="323.5" width="2" height="4" fill="#fff" stroke="#000" stroke-width="1"/><rect x="219" y="298" width="1" height="13" fill="#000"/><rect x="218.5" y="303.5" width="2" height="1" fill="#fff" stroke="#000" stroke-width="1"/><rect x="223" y="285" width="1" height="14" fill="#000"/><rect x="222.5" y="287.5" width="2" height="11" fill="#fff" stroke="#000" stroke-width="1"/><rect x="227" y="280" width="1" height="7" fill="#000"/><rect x="226" y="281.5" width="3" height="4" fill="#000"/><rect x="230" y="282" width="1" height="9" fill="#d0103a"/><rect x="229.5" y="285.5" width="2" height="4" fill="#fff" stroke="#d0103a" stroke-width="1"/><rect x="234" y="274" width="1" height="11" fill="#000"/><rect x="233.5" y="276.5" width="2" height="7" fill="#fff" stroke="#000" stroke-width="1"/><rect x="237" y="269" width="1" height="8" fill="#000"/><rect x="236" y="270.5" width="3" height="4" fill="#000"/><rect x="241" y="269" width="1" height="9" fill="#d0103a"/><rect x="240" y="270.5" width="3" height="4" fill="#d0103a"/><rect x="245" y="264" width="1" height="12" fill="#000"/><rect x="244.5" y="267.5" width="2" height="7" fill="#fff" stroke="#000" stroke-width="1"/><rect x="248" y="247" width="1" height="16" fill="#000"/><rect x="247.5" y="248.5" width="2" height="13" fill="#fff" stroke="#000" stroke-width="1"/><rect x="252" y="243" width="1" height="9" fill="#d0103a"/><rect x="251" y="247.5" width="3" height="5" fill="#d0103a"/><rect x="255" y="247" width="1" height="9" fill="#000"/><rect x="254" y="247.5" width="3" height="4" fill="#000"/><rect x="259" y="244" width="1" height="8" fill="#000"/><rect x="258.5" y="248.5" width="2" height="1" fill="#fff" stroke="#000" stroke-width="1"/><rect x="263" y="243" width="1" height="9" fill="#000"/><rect x="262.5" y="244.5" width="2" height="7" fill="#fff" stroke="#000" stroke-width="1"/><rect x="266" y="244" width="1" height="11" fill="#d0103a"/><rect x="265" y="244.5" width="3" height="5" fill="#d0103a"/><rect x="270" y="238" width="1" height="26" fill="#d0103a"/><rect x="269" y="238.5" width="3" height="22" fill="#d0103a"/><rect x="273" y="246" width="1" height="12" fill="#000"/><rect x="272.5" y="249.5" width="2" height="6" fill="#fff" stroke="#000" stroke-width="1"/><rect x="277" y="245" width="1" height="12" fill="#000"/><rect x="276" y="245.5" width="3" height="4" fill="#000"/><rect x="281" y="256" width="1" height="5" fill="#d0103a"/><rect x="280" y="256.5" width="3" height="5" fill="#d0103a"/><rect x="284" y="261" width="1" height="13" fill="#d0103a"/><rect x="283" y="262.5" width="3" height="8" fill="#d0103a"/><rect x="288" y="255" width="1" height="29" fill="#000"/><rect x="287.5" y="257.5" width="2" height="10" fill="#fff" stroke="#000" stroke-width="1"/><rect x="291" y="250" width="1" height="21" fill="#000"/><rect x="290" y="251.5" width="3" height="5" fill="#000"/><rect x="295" y="251" width="1" height="12" fill="#000"/><rect x="294.5" y="253.5" width="2" height="3" fill="#fff" stroke="#000" stroke-width="1"/><rect x="299" y="233" width="1" height="19" fill="#000"/><rect x="298.5" y="235.5" width="2" height="11" fill="#fff" stroke="#000" stroke-width="1"/><rect x="302" y="232" width="1" height="8" fill="#d0103a"/><rect x="301" y="232.5" width="3" height="4" fill="#d0103a"/><rect x="306" y="228" width="1" height="15" fill="#d0103a"/><rect x="305.5" y="237.5" width="2" height="1" fill="#fff" stroke="#d0103a" stroke-width="1"/><rect x="309" y="231" width="1" height="11" fill="#000"/><rect x="308.5" y="233.5" width="2" height="4" fill="#fff" stroke="#000" stroke-width="1"/><rect x="313" y="227" width="1" height="16" fill="#000"/><rect x="312.5" y="228.5" width="2" height="7" fill="#fff" stroke="#000" stroke-width="1"/><rect x="317" y="207" width="1" height="12" fill="#000"/><rect x="316.5" y="215.5" width="2" height="2" fill="#fff" stroke="#000" stroke-width="1"/><rect x="320" y="208" width="1" height="13" fill="#000"/><rect x="319" y="208.5" width="3" height="4" fill="#000"/><rect x="324" y="211" width="1" height="9" fill="#d0103a"/><rect x="323.5" y="212.5" width="2" height="2" fill="#fff" stroke="#d0103a" stroke-width="1"/><rect x="327" y="196" width="1" height="19" fill="#000"/><rect x="326.5" y="200.5" width="2" height="11" fill="#fff" stroke="#000" stroke-width="1"/><rect x="331" y="195" width="1" height="6" fill="#000"/><rect x="330.5" y="196.5" width="2" height="3" fill="#fff" stroke="#000" stroke-width="1"/><rect x="335" y="190" width="1" height="15" fill="#d0103a"/><rect x="334" y="191.5" width="3" height="9" fill="#d0103a"/><rect x="338" y="197" width="1" height="9" fill="#d0103a"/><rect x="337" y="199.5" width="3" height="4" fill="#d0103a"/><rect x="342" y="194" width="1" height="14" fill="#d0103a"/><rect x="341" y="203.5" width="3" height="4" fill="#d0103a"/><rect x="345" y="199" width="1" height="7" fill="#000"/><rect x="344.5" y="201.5" width="2" height="1" fill="#fff" stroke="#000" stroke-width="1"/><rect x="349" y="196" width="1" height="10" fill="#000"/><rect x="348.5" y="199.5" width="2" height="3" fill="#fff" stroke="#000" stroke-width="1"/><rect x="353" y="194" width="1" height="8" fill="#000"/><rect x="352" y="194.5" width="3" height="4" fill="#000"/><rect x="356" y="185" width="1" height="21" fill="#d0103a"/><rect x="355" y="194.5" width="3" height="10" fill="#d0103a"/><rect x="360" y="196" width="1" height="12" fill="#000"/><rect x="359.5" y="199.5" width="2" height="1" fill="#fff" stroke="#000" stroke-width="1"/><rect x="363" y="189" width="1" height="16" fill="#000"/><rect x="362.5" y="190.5" width="2" height="13" fill="#fff" stroke="#000" stroke-width="1"/><rect x="367" y="180" width="1" height="12" fill="#000"/><rect x="366.5" y="182.5" width="2" height="8" fill="#fff" stroke="#000" stroke-width="1"/><rect x="371" y="172" width="1" height="12" fill="#000"/><rect x="370.5" y="173.5" width="2" height="8" fill="#fff" stroke="#000" stroke-width="1"/><rect x="374" y="168" width="1" height="7" fill="#000"/><rect x="373" y="168.5" width="3" height="4" fill="#000"/><rect x="378" y="167" width="1" height="5" fill="#000"/><rect x="377" y="168.5" width="3" height="4" fill="#000"/><rect x="382" y="153" width="1" height="14" fill="#000"/><rect x="381.5" y="154.5" width="2" height="11" fill="#fff" stroke="#000" stroke-width="1"/><rect x="385" y="151" width="1" height="20" fill="#d0103a"/><rect x="384" y="152.5" width="3" height="16" fill="#d0103a"/><rect x="389" y="147" width="1" height="21" fill="#000"/><rect x="388.5" y="160.5" width="2" height="6" fill="#fff" stroke="#000" stroke-width="1"/><rect x="392" y="146" width="1" height="14" fill="#000"/><rect x="391" y="152.5" width="3" height="4" fill="#000"/><rect x="396" y="144" width="1" height="9" fill="#000"/><rect x="395.5" y="145.5" width="2" height="6" fill="#fff" stroke="#000" stroke-width="1"/><rect x="400" y="157" width="1" height="11" fill="#d0103a"/><rect x="399" y="159.5" width="3" height="8" fill="#d0103a"/><rect x="403" y="160" width="1" height="25" fill="#d0103a"/><rect x="402" y="160.5" width="3" height="20" fill="#d0103a"/><rect x="407" y="179" width="1" height="15" fill="#d0103a"/><rect x="406" y="180.5" width="3" height="11" fill="#d0103a"/><rect x="410" y="171" width="1" height="12" fill="#000"/><rect x="409.5" y="174.5" width="2" height="5" fill="#fff" stroke="#000" stroke-width="1"/><rect x="414" y="167" width="1" height="11" fill="#d0103a"/><rect x="413" y="173.5" width="3" height="4" fill="#d0103a"/><rect x="418" y="190" width="1" height="25" fill="#d0103a"/><rect x="417" y="189.5" width="3" height="24" fill="#d0103a"/><rect x="421" y="194" width="1" height="30" fill="#d0103a"/><rect x="420" y="211.5" width="3" height="10" fill="#d0103a"/><rect x="425" y="195" width="1" height="17" fill="#000"/><rect x="424.5" y="204.5" width="2" height="5" fill="#fff" stroke="#000" stroke-width="1"/><rect x="428" y="193" width="1" height="14" fill="#000"/><rect x="427" y="195.5" width="3" height="8" fill="#000"/><rect x="432" y="194" width="1" height="26" fill="#d0103a"/><rect x="431" y="197.5" width="3" height="14" fill="#d0103a"/><rect x="436" y="177" width="1" height="17" fill="#000"/><rect x="435.5" y="186.5" width="2" height="3" fill="#fff" stroke="#000" stroke-width="1"/><rect x="439" y="173" width="1" height="43" fill="#d0103a"/><rect x="438" y="179.5" width="3" height="29" fill="#d0103a"/><rect x="443" y="226" width="1" height="25" fill="#d0103a"/><rect x="442" y="227.5" width="3" height="10" fill="#d0103a"/><rect x="446" y="265" width="1" height="41" fill="#d0103a"/><rect x="445.5" y="285.5" width="2" height="10" fill="#fff" stroke="#d0103a" stroke-width="1"/><rect x="450" y="247" width="1" height="36" fill="#000"/><rect x="449.5" y="269.5" width="2" height="9" fill="#fff" stroke="#000" stroke-width="1"/><rect x="454" y="241" width="1" height="42" fill="#d0103a"/><rect x="453" y="252.5" width="3" height="29" fill="#d0103a"/><rect x="457" y="242" width="1" height="29" fill="#000"/><rect x="456.5" y="245.5" width="2" height="19" fill="#fff" stroke="#000" stroke-width="1"/><rect x="461" y="235" width="1" height="17" fill="#000"/><rect x="460.5" y="238.5" width="2" height="8" fill="#fff" stroke="#000" stroke-width="1"/><rect x="464" y="229" width="1" height="18" fill="#000"/><rect x="463" y="233.5" width="3" height="5" fill="#000"/><rect x="468" y="210" width="1" height="20" fill="#000"/><rect x="467.5" y="211.5" width="2" height="16" fill="#fff" stroke="#000" stroke-width="1"/><rect x="472" y="202" width="1" height="14" fill="#000"/><rect x="471.5" y="205.5" width="2" height="3" fill="#fff" stroke="#000" stroke-width="1"/><rect x="475" y="179" width="1" height="13" fill="#000"/><rect x="474.5" y="180.5" width="2" height="11" fill="#fff" stroke="#000" stroke-width="1"/><rect x="479" y="174" width="1" height="12" fill="#000"/><rect x="478.5" y="177.5" width="2" height="6" fill="#fff" stroke="#000" stroke-width="1"/><rect x="482" y="161" width="1" height="17" fill="#000"/><rect x="481.5" y="162.5" width="2" height="13" fill="#fff" stroke="#000" stroke-width="1"/><rect x="486" y="158" width="1" height="10" fill="#d0103a"/><rect x="485" y="161.5" width="3" height="4" fill="#d0103a"/><rect x="490" y="154" width="1" height="13" fill="#000"/><rect x="489.5" y="158.5" width="2" height="4" fill="#fff" stroke="#000" stroke-width="1"/><rect x="493" y="151" width="1" height="24" fill="#d0103a"/><rect x="492" y="152.5" width="3" height="20" fill="#d0103a"/><rect x="497" y="152" width="1" height="17" fill="#000"/><rect x="496.5" y="154.5" width="2" height="8" fill="#fff" stroke="#000" stroke-width="1"/><rect x="500" y="149" width="1" height="15" fill="#d0103a"/><rect x="499" y="152.5" width="3" height="7" fill="#d0103a"/><rect x="504" y="155" width="1" height="13" fill="#000"/><rect x="503.5" y="157.5" width="2" height="5" fill="#fff" stroke="#000" stroke-width="1"/><rect x="508" y="156" width="1" height="19" fill="#d0103a"/><rect x="507" y="156.5" width="3" height="10" fill="#d0103a"/><rect x="511" y="150" width="1" height="19" fill="#d0103a"/><rect x="510" y="161.5" width="3" height="5" fill="#d0103a"/><rect x="515" y="149" width="1" height="21" fill="#000"/><rect x="514.5" y="150.5" width="2" height="9" fill="#fff" stroke="#000" stroke-width="1"/><rect x="518" y="157" width="1" height="30" fill="#d0103a"/><rect x="517" y="156.5" width="3" height="28" fill="#d0103a"/><rect x="522" y="177" width="1" height="15" fill="#d0103a"/><rect x="521.5" y="187.5" width="2" height="2" fill="#fff" stroke="#d0103a" stroke-width="1"/><rect x="526" y="178" width="1" height="18" fill="#d0103a"/><rect x="525" y="184.5" width="3" height="7" fill="#d0103a"/><rect x="529" y="185" width="1" height="36" fill="#d0103a"/><rect x="528" y="189.5" width="3" height="30" fill="#d0103a"/><rect x="533" y="196" width="1" height="16" fill="#000"/><rect x="532.5" y="201.5" width="2" height="7" fill="#fff" stroke="#000" stroke-width="1"/><rect x="537" y="192" width="1" height="18" fill="#000"/><rect x="536.5" y="194.5" width="2" height="2" fill="#fff" stroke="#000" stroke-width="1"/><rect x="540" y="175" width="1" height="45" fill="#000"/><rect x="539.5" y="177.5" width="2" height="15" fill="#fff" stroke="#000" stroke-width="1"/><rect x="544" y="163" width="1" height="20" fill="#000"/><rect x="543.5" y="165.5" width="2" height="10" fill="#fff" stroke="#000" stroke-width="1"/><rect x="547" y="153" width="1" height="11" fill="#000"/><rect x="546.5" y="157.5" width="2" height="5" fill="#fff" stroke="#000" stroke-width="1"/><rect x="551" y="153" width="1" height="10" fill="#000"/><rect x="550.5" y="155.5" width="2" height="4" fill="#fff" stroke="#000" stroke-width="1"/><rect x="555" y="144" width="1" height="16" fill="#000"/><rect x="554" y="147.5" width="3" height="7" fill="#000"/><rect x="558" y="138" width="1" height="22" fill="#d0103a"/><rect x="557" y="151.5" width="3" height="8" fill="#d0103a"/><rect x="562" y="126" width="1" height="14" fill="#000"/><rect x="561.5" y="132.5" width="2" height="2" fill="#fff" stroke="#000" stroke-width="1"/><rect x="565" y="131" width="1" height="12" fill="#d0103a"/><rect x="564" y="132.5" width="3" height="4" fill="#d0103a"/><rect x="569" y="128" width="1" height="7" fill="#000"/><rect x="568.5" y="131.5" width="2" height="1" fill="#fff" stroke="#000" stroke-width="1"/><rect x="573" y="126" width="1" height="11" fill="#000"/><rect x="572" y="124.5" width="3" height="4" fill="#000"/><rect x="576" y="124" width="1" height="9" fill="#d0103a"/><rect x="575" y="124.5" width="3" height="6" fill="#d0103a"/><rect x="580" y="117" width="1" height="14" fill="#000"/><rect x="579" y="118.5" width="3" height="5" fill="#000"/><rect x="583" y="118" width="1" height="10" fill="#d0103a"/><rect x="582" y="120.5" width="3" height="5" fill="#d0103a"/><rect x="587" y="117" width="1" height="18" fill="#000"/><rect x="586.5" y="119.5" width="2" height="9" fill="#fff" stroke="#000" stroke-width="1"/><rect x="591" y="120" width="1" height="26" fill="#d0103a"/><rect x="590" y="119.5" width="3" height="14" fill="#d0103a"/><rect x="594" y="130" width="1" height="14" fill="#000"/><rect x="593.5" y="133.5" width="2" height="2" fill="#fff" stroke="#000" stroke-width="1"/><rect x="598" y="130" width="1" height="13" fill="#d0103a"/><rect x="597" y="133.5" width="3" height="4" fill="#d0103a"/><rect x="601" y="121" width="1" height="15" fill="#000"/><rect x="600.5" y="122.5" width="2" height="2" fill="#fff" stroke="#000" stroke-width="1"/></g><line x1="1.0" y1="372.9" x2="607.5" y2="372.9" stroke="#c4c4c4" stroke-width="1" stroke-dasharray="1.5,1.5"/><line x1="607.5" y1="20.3" x2="607.5" y2="474.2" stroke="#b8b8b8" stroke-width="1" stroke-dasharray="1.5,1.5"/><line x1="1.0" y1="20.3" x2="1.0" y2="474.2" stroke="#c8c8c8" stroke-width="1"/><line x1="563" y1="109.9" x2="608.6" y2="109.9" stroke="#000" stroke-width="2.4" stroke-linecap="round"/><line x1="369.3" y1="146.5" x2="604.8" y2="146.5" stroke="#000" stroke-width="2.4" stroke-linecap="round"/><line x1="362" y1="221.3" x2="590.9" y2="221.3" stroke="#000" stroke-width="2.4" stroke-linecap="round"/><text x="609.5" y="137.80" font-family="Liberation Sans, sans-serif" font-size="7.8" fill="#222">5700</text><text x="609.5" y="151.71" font-family="Liberation Sans, sans-serif" font-size="7.8" fill="#222">5650</text><text x="609.5" y="165.73" font-family="Liberation Sans, sans-serif" font-size="7.8" fill="#222">5600</text><text x="609.5" y="194.16" font-family="Liberation Sans, sans-serif" font-size="7.8" fill="#222">5500</text><text x="609.5" y="208.57" font-family="Liberation Sans, sans-serif" font-size="7.8" fill="#222">5450</text><text x="609.5" y="223.11" font-family="Liberation Sans, sans-serif" font-size="7.8" fill="#222">5400</text><text x="609.5" y="237.79" font-family="Liberation Sans, sans-serif" font-size="7.8" fill="#222">5350</text><text x="609.5" y="252.61" font-family="Liberation Sans, sans-serif" font-size="7.8" fill="#222">5300</text><text x="609.5" y="282.66" font-family="Liberation Sans, sans-serif" font-size="7.8" fill="#222">5200</text><text x="609.5" y="297.91" font-family="Liberation Sans, sans-serif" font-size="7.8" fill="#222">5150</text><text x="609.5" y="313.30" font-family="Liberation Sans, sans-serif" font-size="7.8" fill="#222">5100</text><text x="609.5" y="328.85" font-family="Liberation Sans, sans-serif" font-size="7.8" fill="#222">5050</text><text x="609.5" y="344.55" font-family="Liberation Sans, sans-serif" font-size="7.8" fill="#222">5000</text><text x="609.5" y="360.40" font-family="Liberation Sans, sans-serif" font-size="7.8" fill="#222">4950</text><path d="M605.5,121.83 L608.5,118.03 L638.6892,118.03 L638.6892,125.63 L608.5,125.63 Z" fill="#fff" stroke="#000" stroke-width="1" stroke-linejoin="round"/><text x="608.5" y="124.63" font-family="Liberation Sans, sans-serif" font-size="7.8" font-weight="bold" fill="#111">5751.07</text><path d="M605.5,145.15 L608.5,141.35 L638.6892,141.35 L638.6892,148.95 L608.5,148.95 Z" fill="#fff" stroke="#3a8a3a" stroke-width="1" stroke-linejoin="round"/><text x="608.5" y="147.95" font-family="Liberation Sans, sans-serif" font-size="7.8" font-weight="bold" fill="#1a3a1a">5666.68</text><path d="M605.5,176.87 L608.5,173.07 L638.6892,173.07 L638.6892,180.67 L608.5,180.67 Z" fill="#fff" stroke="#4848a8" stroke-width="1" stroke-linejoin="round"/><text x="608.5" y="179.67" font-family="Liberation Sans, sans-serif" font-size="7.8" font-weight="bold" fill="#1a1a50">5553.93</text><path d="M605.5,264.44 L608.5,260.64 L638.6892,260.64 L638.6892,268.24 L608.5,268.24 Z" fill="#fff" stroke="#d04858" stroke-width="1" stroke-linejoin="round"/><text x="608.5" y="267.24" font-family="Liberation Sans, sans-serif" font-size="7.8" font-weight="bold" fill="#401018">5254.06</text><path d="M605.5,56.40 L608.5,52.60 L630.0156,52.60 L630.0156,60.20 L608.5,60.20 Z" fill="#fff" stroke="#000" stroke-width="1" stroke-linejoin="round"/><text x="608.5" y="59.20" font-family="Liberation Sans, sans-serif" font-size="7.8" font-weight="bold" fill="#111">62.35</text><text x="14.35" y="380.4" font-family="Liberation Sans, sans-serif" font-size="7.2" font-weight="normal" text-anchor="middle" fill="#222">12</text><text x="32.37" y="380.4" font-family="Liberation Sans, sans-serif" font-size="7.2" font-weight="normal" text-anchor="middle" fill="#222">20</text><text x="46.79" y="380.4" font-family="Liberation Sans, sans-serif" font-size="7.2" font-weight="normal" text-anchor="middle" fill="#222">26</text><text x="61.21" y="380.4" font-family="Liberation Sans, sans-serif" font-size="8" font-weight="bold" text-anchor="middle" fill="#222" stroke="#222" stroke-width="0.25">Mar</text><text x="82.84" y="380.4" font-family="Liberation Sans, sans-serif" font-size="7.2" font-weight="normal" text-anchor="middle" fill="#222">11</text><text x="100.86" y="380.4" font-family="Liberation Sans, sans-serif" font-size="7.2" font-weight="normal" text-anchor="middle" fill="#222">18</text><text x="118.88" y="380.4" font-family="Liberation Sans, sans-serif" font-size="7.2" font-weight="normal" text-anchor="middle" fill="#222">25</text><text x="133.30" y="380.4" font-family="Liberation Sans, sans-serif" font-size="8" font-weight="bold" text-anchor="middle" fill="#222" stroke="#222" stroke-width="0.25">Apr</text><text x="151.32" y="380.4" font-family="Liberation Sans, sans-serif" font-size="7.2" font-weight="normal" text-anchor="middle" fill="#222">8</text><text x="169.34" y="380.4" font-family="Liberation Sans, sans-serif" font-size="7.2" font-weight="normal" text-anchor="middle" fill="#222">15</text><text x="187.37" y="380.4" font-family="Liberation Sans, sans-serif" font-size="7.2" font-weight="normal" text-anchor="middle" fill="#222">22</text><text x="212.60" y="380.4" font-family="Liberation Sans, sans-serif" font-size="8" font-weight="bold" text-anchor="middle" fill="#222" stroke="#222" stroke-width="0.25">May</text><text x="223.41" y="380.4" font-family="Liberation Sans, sans-serif" font-size="7.2" font-weight="normal" text-anchor="middle" fill="#222">6</text><text x="241.43" y="380.4" font-family="Liberation Sans, sans-serif" font-size="7.2" font-weight="normal" text-anchor="middle" fill="#222">13</text><text x="259.46" y="380.4" font-family="Liberation Sans, sans-serif" font-size="7.2" font-weight="normal" text-anchor="middle" fill="#222">20</text><text x="277.48" y="380.4" font-family="Liberation Sans, sans-serif" font-size="7.2" font-weight="normal" text-anchor="middle" fill="#222">28</text><text x="291.90" y="380.4" font-family="Liberation Sans, sans-serif" font-size="8" font-weight="bold" text-anchor="middle" fill="#222" stroke="#222" stroke-width="0.25">Jun</text><text x="309.92" y="380.4" font-family="Liberation Sans, sans-serif" font-size="7.2" font-weight="normal" text-anchor="middle" fill="#222">10</text><text x="327.94" y="380.4" font-family="Liberation Sans, sans-serif" font-size="7.2" font-weight="normal" text-anchor="middle" fill="#222">17</text><text x="342.36" y="380.4" font-family="Liberation Sans, sans-serif" font-size="7.2" font-weight="normal" text-anchor="middle" fill="#222">24</text><text x="360.38" y="380.4" font-family="Liberation Sans, sans-serif" font-size="8" font-weight="bold" text-anchor="middle" fill="#222" stroke="#222" stroke-width="0.25">Jul</text><text x="374.80" y="380.4" font-family="Liberation Sans, sans-serif" font-size="7.2" font-weight="normal" text-anchor="middle" fill="#222">8</text><text x="392.82" y="380.4" font-family="Liberation Sans, sans-serif" font-size="7.2" font-weight="normal" text-anchor="middle" fill="#222">15</text><text x="410.85" y="380.4" font-family="Liberation Sans, sans-serif" font-size="7.2" font-weight="normal" text-anchor="middle" fill="#222">22</text><text x="428.87" y="380.4" font-family="Liberation Sans, sans-serif" font-size="7.2" font-weight="normal" text-anchor="middle" fill="#222">29</text><text x="439.68" y="380.4" font-family="Liberation Sans, sans-serif" font-size="8" font-weight="bold" text-anchor="middle" fill="#222" stroke="#222" stroke-width="0.25">Aug</text><text x="464.91" y="380.4" font-family="Liberation Sans, sans-serif" font-size="7.2" font-weight="normal" text-anchor="middle" fill="#222">12</text><text x="482.94" y="380.4" font-family="Liberation Sans, sans-serif" font-size="7.2" font-weight="normal" text-anchor="middle" fill="#222">19</text><text x="500.96" y="380.4" font-family="Liberation Sans, sans-serif" font-size="7.2" font-weight="normal" text-anchor="middle" fill="#222">26</text><text x="518.98" y="380.4" font-family="Liberation Sans, sans-serif" font-size="8" font-weight="bold" text-anchor="middle" fill="#222" stroke="#222" stroke-width="0.25">Sep</text><text x="533.40" y="380.4" font-family="Liberation Sans, sans-serif" font-size="7.2" font-weight="normal" text-anchor="middle" fill="#222">9</text><text x="551.42" y="380.4" font-family="Liberation Sans, sans-serif" font-size="7.2" font-weight="normal" text-anchor="middle" fill="#222">16</text><text x="569.44" y="380.4" font-family="Liberation Sans, sans-serif" font-size="7.2" font-weight="normal" text-anchor="middle" fill="#222">23</text><text x="591.07" y="380.4" font-family="Liberation Sans, sans-serif" font-size="8" font-weight="bold" text-anchor="middle" fill="#222" stroke="#222" stroke-width="0.25">Oct</text><line x1="1.0" y1="480.90" x2="607.5" y2="480.90" stroke="#ebebeb" stroke-width="1"/><line x1="1.0" y1="469.00" x2="607.5" y2="469.00" stroke="#ebebeb" stroke-width="1"/><line x1="1.0" y1="457.10" x2="607.5" y2="457.10" stroke="#ebebeb" stroke-width="1"/><line x1="1.0" y1="445.20" x2="607.5" y2="445.20" stroke="#ebebeb" stroke-width="1"/><line x1="1.0" y1="433.30" x2="607.5" y2="433.30" stroke="#ebebeb" stroke-width="1"/><line x1="1.0" y1="421.40" x2="607.5" y2="421.40" stroke="#ebebeb" stroke-width="1"/><line x1="1.0" y1="409.50" x2="607.5" y2="409.50" stroke="#ebebeb" stroke-width="1"/><line x1="1.0" y1="397.60" x2="607.5" y2="397.60" stroke="#ebebeb" stroke-width="1"/><line x1="1.0" y1="385.70" x2="607.5" y2="385.70" stroke="#ebebeb" stroke-width="1"/><line x1="14.35" y1="382.5" x2="14.35" y2="474.2" stroke="#ebebeb" stroke-width="1"/><line x1="32.37" y1="382.5" x2="32.37" y2="474.2" stroke="#ebebeb" stroke-width="1"/><line x1="46.79" y1="382.5" x2="46.79" y2="474.2" stroke="#ebebeb" stroke-width="1"/><line x1="64.81" y1="382.5" x2="64.81" y2="474.2" stroke="#ebebeb" stroke-width="1"/><line x1="82.84" y1="382.5" x2="82.84" y2="474.2" stroke="#ebebeb" stroke-width="1"/><line x1="100.86" y1="382.5" x2="100.86" y2="474.2" stroke="#ebebeb" stroke-width="1"/><line x1="118.88" y1="382.5" x2="118.88" y2="474.2" stroke="#ebebeb" stroke-width="1"/><line x1="151.32" y1="382.5" x2="151.32" y2="474.2" stroke="#ebebeb" stroke-width="1"/><line x1="169.34" y1="382.5" x2="169.34" y2="474.2" stroke="#ebebeb" stroke-width="1"/><line x1="187.37" y1="382.5" x2="187.37" y2="474.2" stroke="#ebebeb" stroke-width="1"/><line x1="205.39" y1="382.5" x2="205.39" y2="474.2" stroke="#ebebeb" stroke-width="1"/><line x1="223.41" y1="382.5" x2="223.41" y2="474.2" stroke="#ebebeb" stroke-width="1"/><line x1="241.43" y1="382.5" x2="241.43" y2="474.2" stroke="#ebebeb" stroke-width="1"/><line x1="259.46" y1="382.5" x2="259.46" y2="474.2" stroke="#ebebeb" stroke-width="1"/><line x1="277.48" y1="382.5" x2="277.48" y2="474.2" stroke="#ebebeb" stroke-width="1"/><line x1="309.92" y1="382.5" x2="309.92" y2="474.2" stroke="#ebebeb" stroke-width="1"/><line x1="327.94" y1="382.5" x2="327.94" y2="474.2" stroke="#ebebeb" stroke-width="1"/><line x1="342.36" y1="382.5" x2="342.36" y2="474.2" stroke="#ebebeb" stroke-width="1"/><line x1="374.80" y1="382.5" x2="374.80" y2="474.2" stroke="#ebebeb" stroke-width="1"/><line x1="392.82" y1="382.5" x2="392.82" y2="474.2" stroke="#ebebeb" stroke-width="1"/><line x1="410.85" y1="382.5" x2="410.85" y2="474.2" stroke="#ebebeb" stroke-width="1"/><line x1="428.87" y1="382.5" x2="428.87" y2="474.2" stroke="#ebebeb" stroke-width="1"/><line x1="446.89" y1="382.5" x2="446.89" y2="474.2" stroke="#ebebeb" stroke-width="1"/><line x1="464.91" y1="382.5" x2="464.91" y2="474.2" stroke="#ebebeb" stroke-width="1"/><line x1="482.94" y1="382.5" x2="482.94" y2="474.2" stroke="#ebebeb" stroke-width="1"/><line x1="500.96" y1="382.5" x2="500.96" y2="474.2" stroke="#ebebeb" stroke-width="1"/><line x1="533.40" y1="382.5" x2="533.40" y2="474.2" stroke="#ebebeb" stroke-width="1"/><line x1="551.42" y1="382.5" x2="551.42" y2="474.2" stroke="#ebebeb" stroke-width="1"/><line x1="569.44" y1="382.5" x2="569.44" y2="474.2" stroke="#ebebeb" stroke-width="1"/><line x1="587.47" y1="382.5" x2="587.47" y2="474.2" stroke="#ebebeb" stroke-width="1"/><line x1="61.21" y1="382.5" x2="61.21" y2="474.2" stroke="#d2d2d2" stroke-width="1"/><line x1="133.30" y1="382.5" x2="133.30" y2="474.2" stroke="#d2d2d2" stroke-width="1"/><line x1="212.60" y1="382.5" x2="212.60" y2="474.2" stroke="#d2d2d2" stroke-width="1"/><line x1="291.90" y1="382.5" x2="291.90" y2="474.2" stroke="#d2d2d2" stroke-width="1"/><line x1="360.38" y1="382.5" x2="360.38" y2="474.2" stroke="#d2d2d2" stroke-width="1"/><line x1="439.68" y1="382.5" x2="439.68" y2="474.2" stroke="#d2d2d2" stroke-width="1"/><line x1="518.98" y1="382.5" x2="518.98" y2="474.2" stroke="#d2d2d2" stroke-width="1"/><line x1="591.07" y1="382.5" x2="591.07" y2="474.2" stroke="#d2d2d2" stroke-width="1"/><clipPath id="cmc"><rect x="1.0" y="382.5" width="606.5" height="91.69999999999999"/></clipPath><g clip-path="url(#cmc)"><rect x="-1.87" y="431.26" width="3.6" height="2.84" fill="#5aaad4" stroke="#2f6f9a" stroke-width="0.7"/><rect x="1.74" y="430.15" width="3.6" height="3.95" fill="#5aaad4" stroke="#2f6f9a" stroke-width="0.7"/><rect x="5.34" y="429.84" width="3.6" height="4.26" fill="#5aaad4" stroke="#2f6f9a" stroke-width="0.7"/><rect x="8.95" y="429.06" width="3.6" height="5.04" fill="#5aaad4" stroke="#2f6f9a" stroke-width="0.7"/><rect x="12.55" y="429.32" width="3.6" height="4.78" fill="#5aaad4" stroke="#2f6f9a" stroke-width="0.7"/><rect x="16.15" y="432.64" width="3.6" height="1.46" fill="#5aaad4" stroke="#2f6f9a" stroke-width="0.7"/><rect x="19.76" y="433.30" width="3.6" height="0.81" fill="#5aaad4" stroke="#2f6f9a" stroke-width="0.7"/><rect x="23.36" y="432.97" width="3.6" height="1.13" fill="#5aaad4" stroke="#2f6f9a" stroke-width="0.7"/><rect x="26.97" y="433.30" width="3.6" height="1.54" fill="#5aaad4" stroke="#2f6f9a" stroke-width="0.7"/><rect x="30.57" y="433.30" width="3.6" height="3.66" fill="#5aaad4" stroke="#2f6f9a" stroke-width="0.7"/><rect x="34.18" y="433.30" width="3.6" height="4.95" fill="#5aaad4" stroke="#2f6f9a" stroke-width="0.7"/><rect x="37.78" y="433.30" width="3.6" height="1.87" fill="#5aaad4" stroke="#2f6f9a" stroke-width="0.7"/><rect x="41.39" y="432.65" width="3.6" height="1.45" fill="#5aaad4" stroke="#2f6f9a" stroke-width="0.7"/><rect x="44.99" y="432.67" width="3.6" height="1.43" fill="#5aaad4" stroke="#2f6f9a" stroke-width="0.7"/><rect x="48.60" y="432.72" width="3.6" height="1.38" fill="#5aaad4" stroke="#2f6f9a" stroke-width="0.7"/><rect x="52.20" y="433.30" width="3.6" height="0.93" fill="#5aaad4" stroke="#2f6f9a" stroke-width="0.7"/><rect x="55.80" y="433.20" width="3.6" height="0.90" fill="#5aaad4" stroke="#2f6f9a" stroke-width="0.7"/><rect x="59.41" y="431.84" width="3.6" height="2.26" fill="#5aaad4" stroke="#2f6f9a" stroke-width="0.7"/><rect x="63.01" y="431.64" width="3.6" height="2.46" fill="#5aaad4" stroke="#2f6f9a" stroke-width="0.7"/><rect x="66.62" y="433.30" width="3.6" height="1.43" fill="#5aaad4" stroke="#2f6f9a" stroke-width="0.7"/><rect x="70.22" y="433.30" width="3.6" height="2.18" fill="#5aaad4" stroke="#2f6f9a" stroke-width="0.7"/><rect x="73.83" y="433.30" width="3.6" height="0.91" fill="#5aaad4" stroke="#2f6f9a" stroke-width="0.7"/><rect x="77.43" y="433.30" width="3.6" height="1.73" fill="#5aaad4" stroke="#2f6f9a" stroke-width="0.7"/><rect x="81.04" y="433.30" width="3.6" height="2.75" fill="#5aaad4" stroke="#2f6f9a" stroke-width="0.7"/><rect x="84.64" y="433.30" width="3.6" height="1.43" fill="#5aaad4" stroke="#2f6f9a" stroke-width="0.7"/><rect x="88.24" y="433.30" width="3.6" height="1.28" fill="#5aaad4" stroke="#2f6f9a" stroke-width="0.7"/><rect x="91.85" y="433.30" width="3.6" height="2.06" fill="#5aaad4" stroke="#2f6f9a" stroke-width="0.7"/><rect x="95.45" y="433.30" width="3.6" height="4.07" fill="#5aaad4" stroke="#2f6f9a" stroke-width="0.7"/><rect x="99.06" y="433.30" width="3.6" height="4.24" fill="#5aaad4" stroke="#2f6f9a" stroke-width="0.7"/><rect x="102.66" y="433.30" width="3.6" height="3.38" fill="#5aaad4" stroke="#2f6f9a" stroke-width="0.7"/><rect x="106.27" y="433.30" width="3.6" height="1.25" fill="#5aaad4" stroke="#2f6f9a" stroke-width="0.7"/><rect x="109.87" y="432.06" width="3.6" height="2.04" fill="#5aaad4" stroke="#2f6f9a" stroke-width="0.7"/><rect x="113.48" y="431.65" width="3.6" height="2.45" fill="#5aaad4" stroke="#2f6f9a" stroke-width="0.7"/><rect x="117.08" y="432.39" width="3.6" height="1.71" fill="#5aaad4" stroke="#2f6f9a" stroke-width="0.7"/><rect x="120.68" y="433.30" width="3.6" height="1.27" fill="#5aaad4" stroke="#2f6f9a" stroke-width="0.7"/><rect x="124.29" y="433.21" width="3.6" height="0.89" fill="#5aaad4" stroke="#2f6f9a" stroke-width="0.7"/><rect x="127.89" y="432.96" width="3.6" height="1.14" fill="#5aaad4" stroke="#2f6f9a" stroke-width="0.7"/><rect x="131.50" y="433.30" width="3.6" height="1.03" fill="#5aaad4" stroke="#2f6f9a" stroke-width="0.7"/><rect x="135.10" y="433.30" width="3.6" height="3.12" fill="#5aaad4" stroke="#2f6f9a" stroke-width="0.7"/><rect x="138.71" y="433.30" width="3.6" height="4.41" fill="#5aaad4" stroke="#2f6f9a" stroke-width="0.7"/><rect x="142.31" y="433.30" width="3.6" height="7.76" fill="#5aaad4" stroke="#2f6f9a" stroke-width="0.7"/><rect x="145.92" y="433.30" width="3.6" height="7.61" fill="#5aaad4" stroke="#2f6f9a" stroke-width="0.7"/><rect x="149.52" y="433.30" width="3.6" height="7.49" fill="#5aaad4" stroke="#2f6f9a" stroke-width="0.7"/><rect x="153.13" y="433.30" width="3.6" height="7.04" fill="#5aaad4" stroke="#2f6f9a" stroke-width="0.7"/><rect x="156.73" y="433.30" width="3.6" height="8.53" fill="#5aaad4" stroke="#2f6f9a" stroke-width="0.7"/><rect x="160.33" y="433.30" width="3.6" height="7.82" fill="#5aaad4" stroke="#2f6f9a" stroke-width="0.7"/><rect x="163.94" y="433.30" width="3.6" height="10.08" fill="#5aaad4" stroke="#2f6f9a" stroke-width="0.7"/><rect x="167.54" y="433.30" width="3.6" height="13.53" fill="#5aaad4" stroke="#2f6f9a" stroke-width="0.7"/><rect x="171.15" y="433.30" width="3.6" height="15.58" fill="#5aaad4" stroke="#2f6f9a" stroke-width="0.7"/><rect x="174.75" y="433.30" width="3.6" height="17.31" fill="#5aaad4" stroke="#2f6f9a" stroke-width="0.7"/><rect x="178.36" y="433.30" width="3.6" height="18.03" fill="#5aaad4" stroke="#2f6f9a" stroke-width="0.7"/><rect x="181.96" y="433.30" width="3.6" height="19.29" fill="#5aaad4" stroke="#2f6f9a" stroke-width="0.7"/><rect x="185.57" y="433.30" width="3.6" height="17.46" fill="#5aaad4" stroke="#2f6f9a" stroke-width="0.7"/><rect x="189.17" y="433.30" width="3.6" height="13.13" fill="#5aaad4" stroke="#2f6f9a" stroke-width="0.7"/><rect x="192.77" y="433.30" width="3.6" height="9.66" fill="#5aaad4" stroke="#2f6f9a" stroke-width="0.7"/><rect x="196.38" y="433.30" width="3.6" height="7.81" fill="#5aaad4" stroke="#2f6f9a" stroke-width="0.7"/><rect x="199.98" y="433.30" width="3.6" height="4.23" fill="#5aaad4" stroke="#2f6f9a" stroke-width="0.7"/><rect x="203.59" y="433.30" width="3.6" height="1.08" fill="#5aaad4" stroke="#2f6f9a" stroke-width="0.7"/><rect x="207.19" y="433.30" width="3.6" height="2.03" fill="#5aaad4" stroke="#2f6f9a" stroke-width="0.7"/><rect x="210.80" y="433.30" width="3.6" height="3.11" fill="#5aaad4" stroke="#2f6f9a" stroke-width="0.7"/><rect x="214.40" y="433.30" width="3.6" height="1.80" fill="#5aaad4" stroke="#2f6f9a" stroke-width="0.7"/><rect x="218.01" y="430.89" width="3.6" height="3.21" fill="#5aaad4" stroke="#2f6f9a" stroke-width="0.7"/><rect x="221.61" y="426.76" width="3.6" height="7.34" fill="#5aaad4" stroke="#2f6f9a" stroke-width="0.7"/><rect x="225.22" y="424.14" width="3.6" height="9.96" fill="#5aaad4" stroke="#2f6f9a" stroke-width="0.7"/><rect x="228.82" y="422.91" width="3.6" height="11.19" fill="#5aaad4" stroke="#2f6f9a" stroke-width="0.7"/><rect x="232.42" y="421.62" width="3.6" height="12.48" fill="#5aaad4" stroke="#2f6f9a" stroke-width="0.7"/><rect x="236.03" y="421.06" width="3.6" height="13.04" fill="#5aaad4" stroke="#2f6f9a" stroke-width="0.7"/><rect x="239.63" y="421.40" width="3.6" height="12.70" fill="#5aaad4" stroke="#2f6f9a" stroke-width="0.7"/><rect x="243.24" y="421.31" width="3.6" height="12.79" fill="#5aaad4" stroke="#2f6f9a" stroke-width="0.7"/><rect x="246.84" y="419.59" width="3.6" height="14.51" fill="#5aaad4" stroke="#2f6f9a" stroke-width="0.7"/><rect x="250.45" y="419.74" width="3.6" height="14.36" fill="#5aaad4" stroke="#2f6f9a" stroke-width="0.7"/><rect x="254.05" y="420.42" width="3.6" height="13.68" fill="#5aaad4" stroke="#2f6f9a" stroke-width="0.7"/><rect x="257.66" y="421.49" width="3.6" height="12.61" fill="#5aaad4" stroke="#2f6f9a" stroke-width="0.7"/><rect x="261.26" y="422.44" width="3.6" height="11.66" fill="#5aaad4" stroke="#2f6f9a" stroke-width="0.7"/><rect x="264.87" y="424.35" width="3.6" height="9.75" fill="#5aaad4" stroke="#2f6f9a" stroke-width="0.7"/><rect x="268.47" y="427.71" width="3.6" height="6.39" fill="#5aaad4" stroke="#2f6f9a" stroke-width="0.7"/><rect x="272.07" y="428.95" width="3.6" height="5.15" fill="#5aaad4" stroke="#2f6f9a" stroke-width="0.7"/><rect x="275.68" y="430.14" width="3.6" height="3.96" fill="#5aaad4" stroke="#2f6f9a" stroke-width="0.7"/><rect x="279.28" y="432.78" width="3.6" height="1.32" fill="#5aaad4" stroke="#2f6f9a" stroke-width="0.7"/><rect x="282.89" y="433.30" width="3.6" height="3.40" fill="#5aaad4" stroke="#2f6f9a" stroke-width="0.7"/><rect x="286.49" y="433.30" width="3.6" height="3.87" fill="#5aaad4" stroke="#2f6f9a" stroke-width="0.7"/><rect x="290.10" y="433.30" width="3.6" height="4.01" fill="#5aaad4" stroke="#2f6f9a" stroke-width="0.7"/><rect x="293.70" y="433.30" width="3.6" height="3.86" fill="#5aaad4" stroke="#2f6f9a" stroke-width="0.7"/><rect x="297.31" y="433.30" width="3.6" height="1.44" fill="#5aaad4" stroke="#2f6f9a" stroke-width="0.7"/><rect x="300.91" y="432.65" width="3.6" height="1.45" fill="#5aaad4" stroke="#2f6f9a" stroke-width="0.7"/><rect x="304.51" y="432.32" width="3.6" height="1.78" fill="#5aaad4" stroke="#2f6f9a" stroke-width="0.7"/><rect x="308.12" y="431.87" width="3.6" height="2.23" fill="#5aaad4" stroke="#2f6f9a" stroke-width="0.7"/><rect x="311.72" y="431.33" width="3.6" height="2.77" fill="#5aaad4" stroke="#2f6f9a" stroke-width="0.7"/><rect x="315.33" y="429.59" width="3.6" height="4.51" fill="#5aaad4" stroke="#2f6f9a" stroke-width="0.7"/><rect x="318.93" y="428.45" width="3.6" height="5.65" fill="#5aaad4" stroke="#2f6f9a" stroke-width="0.7"/><rect x="322.54" y="428.32" width="3.6" height="5.78" fill="#5aaad4" stroke="#2f6f9a" stroke-width="0.7"/><rect x="326.14" y="427.18" width="3.6" height="6.92" fill="#5aaad4" stroke="#2f6f9a" stroke-width="0.7"/><rect x="329.75" y="426.54" width="3.6" height="7.56" fill="#5aaad4" stroke="#2f6f9a" stroke-width="0.7"/><rect x="333.35" y="427.30" width="3.6" height="6.80" fill="#5aaad4" stroke="#2f6f9a" stroke-width="0.7"/><rect x="336.95" y="428.73" width="3.6" height="5.37" fill="#5aaad4" stroke="#2f6f9a" stroke-width="0.7"/><rect x="340.56" y="430.81" width="3.6" height="3.29" fill="#5aaad4" stroke="#2f6f9a" stroke-width="0.7"/><rect x="344.16" y="431.75" width="3.6" height="2.35" fill="#5aaad4" stroke="#2f6f9a" stroke-width="0.7"/><rect x="347.77" y="432.42" width="3.6" height="1.68" fill="#5aaad4" stroke="#2f6f9a" stroke-width="0.7"/><rect x="351.37" y="433.02" width="3.6" height="1.08" fill="#5aaad4" stroke="#2f6f9a" stroke-width="0.7"/><rect x="354.98" y="433.30" width="3.6" height="2.09" fill="#5aaad4" stroke="#2f6f9a" stroke-width="0.7"/><rect x="358.58" y="433.30" width="3.6" height="2.77" fill="#5aaad4" stroke="#2f6f9a" stroke-width="0.7"/><rect x="362.19" y="433.30" width="3.6" height="2.13" fill="#5aaad4" stroke="#2f6f9a" stroke-width="0.7"/><rect x="365.79" y="433.30" width="3.6" height="0.91" fill="#5aaad4" stroke="#2f6f9a" stroke-width="0.7"/><rect x="369.40" y="431.80" width="3.6" height="2.30" fill="#5aaad4" stroke="#2f6f9a" stroke-width="0.7"/><rect x="373.00" y="430.98" width="3.6" height="3.12" fill="#5aaad4" stroke="#2f6f9a" stroke-width="0.7"/><rect x="376.60" y="430.76" width="3.6" height="3.34" fill="#5aaad4" stroke="#2f6f9a" stroke-width="0.7"/><rect x="380.21" y="428.92" width="3.6" height="5.18" fill="#5aaad4" stroke="#2f6f9a" stroke-width="0.7"/><rect x="383.81" y="430.21" width="3.6" height="3.89" fill="#5aaad4" stroke="#2f6f9a" stroke-width="0.7"/><rect x="387.42" y="430.35" width="3.6" height="3.75" fill="#5aaad4" stroke="#2f6f9a" stroke-width="0.7"/><rect x="391.02" y="430.35" width="3.6" height="3.75" fill="#5aaad4" stroke="#2f6f9a" stroke-width="0.7"/><rect x="394.63" y="429.50" width="3.6" height="4.60" fill="#5aaad4" stroke="#2f6f9a" stroke-width="0.7"/><rect x="398.23" y="432.53" width="3.6" height="1.57" fill="#5aaad4" stroke="#2f6f9a" stroke-width="0.7"/><rect x="401.84" y="433.30" width="3.6" height="4.00" fill="#5aaad4" stroke="#2f6f9a" stroke-width="0.7"/><rect x="405.44" y="433.30" width="3.6" height="8.19" fill="#5aaad4" stroke="#2f6f9a" stroke-width="0.7"/><rect x="409.05" y="433.30" width="3.6" height="8.51" fill="#5aaad4" stroke="#2f6f9a" stroke-width="0.7"/><rect x="412.65" y="433.30" width="3.6" height="8.97" fill="#5aaad4" stroke="#2f6f9a" stroke-width="0.7"/><rect x="416.25" y="433.30" width="3.6" height="14.03" fill="#5aaad4" stroke="#2f6f9a" stroke-width="0.7"/><rect x="419.86" y="433.30" width="3.6" height="17.84" fill="#5aaad4" stroke="#2f6f9a" stroke-width="0.7"/><rect x="423.46" y="433.30" width="3.6" height="17.30" fill="#5aaad4" stroke="#2f6f9a" stroke-width="0.7"/><rect x="427.07" y="433.30" width="3.6" height="16.14" fill="#5aaad4" stroke="#2f6f9a" stroke-width="0.7"/><rect x="430.67" y="433.30" width="3.6" height="15.80" fill="#5aaad4" stroke="#2f6f9a" stroke-width="0.7"/><rect x="434.28" y="433.30" width="3.6" height="11.68" fill="#5aaad4" stroke="#2f6f9a" stroke-width="0.7"/><rect x="437.88" y="433.30" width="3.6" height="11.51" fill="#5aaad4" stroke="#2f6f9a" stroke-width="0.7"/><rect x="441.49" y="433.30" width="3.6" height="14.72" fill="#5aaad4" stroke="#2f6f9a" stroke-width="0.7"/><rect x="445.09" y="433.30" width="3.6" height="22.15" fill="#5aaad4" stroke="#2f6f9a" stroke-width="0.7"/><rect x="448.69" y="433.30" width="3.6" height="23.65" fill="#5aaad4" stroke="#2f6f9a" stroke-width="0.7"/><rect x="452.30" y="433.30" width="3.6" height="24.88" fill="#5aaad4" stroke="#2f6f9a" stroke-width="0.7"/><rect x="455.90" y="433.30" width="3.6" height="19.74" fill="#5aaad4" stroke="#2f6f9a" stroke-width="0.7"/><rect x="459.51" y="433.30" width="3.6" height="14.44" fill="#5aaad4" stroke="#2f6f9a" stroke-width="0.7"/><rect x="463.11" y="433.30" width="3.6" height="10.21" fill="#5aaad4" stroke="#2f6f9a" stroke-width="0.7"/><rect x="466.72" y="433.30" width="3.6" height="3.46" fill="#5aaad4" stroke="#2f6f9a" stroke-width="0.7"/><rect x="470.32" y="430.59" width="3.6" height="3.51" fill="#5aaad4" stroke="#2f6f9a" stroke-width="0.7"/><rect x="473.93" y="423.83" width="3.6" height="10.27" fill="#5aaad4" stroke="#2f6f9a" stroke-width="0.7"/><rect x="477.53" y="419.49" width="3.6" height="14.61" fill="#5aaad4" stroke="#2f6f9a" stroke-width="0.7"/><rect x="481.13" y="415.30" width="3.6" height="18.80" fill="#5aaad4" stroke="#2f6f9a" stroke-width="0.7"/><rect x="484.74" y="413.94" width="3.6" height="20.16" fill="#5aaad4" stroke="#2f6f9a" stroke-width="0.7"/><rect x="488.34" y="413.14" width="3.6" height="20.96" fill="#5aaad4" stroke="#2f6f9a" stroke-width="0.7"/><rect x="491.95" y="415.59" width="3.6" height="18.51" fill="#5aaad4" stroke="#2f6f9a" stroke-width="0.7"/><rect x="495.55" y="415.65" width="3.6" height="18.45" fill="#5aaad4" stroke="#2f6f9a" stroke-width="0.7"/><rect x="499.16" y="417.35" width="3.6" height="16.75" fill="#5aaad4" stroke="#2f6f9a" stroke-width="0.7"/><rect x="502.76" y="419.02" width="3.6" height="15.08" fill="#5aaad4" stroke="#2f6f9a" stroke-width="0.7"/><rect x="506.37" y="422.23" width="3.6" height="11.87" fill="#5aaad4" stroke="#2f6f9a" stroke-width="0.7"/><rect x="509.97" y="424.99" width="3.6" height="9.11" fill="#5aaad4" stroke="#2f6f9a" stroke-width="0.7"/><rect x="513.58" y="425.19" width="3.6" height="8.91" fill="#5aaad4" stroke="#2f6f9a" stroke-width="0.7"/><rect x="517.18" y="430.48" width="3.6" height="3.62" fill="#5aaad4" stroke="#2f6f9a" stroke-width="0.7"/><rect x="520.78" y="433.30" width="3.6" height="1.98" fill="#5aaad4" stroke="#2f6f9a" stroke-width="0.7"/><rect x="524.39" y="433.30" width="3.6" height="5.26" fill="#5aaad4" stroke="#2f6f9a" stroke-width="0.7"/><rect x="527.99" y="433.30" width="3.6" height="10.89" fill="#5aaad4" stroke="#2f6f9a" stroke-width="0.7"/><rect x="531.60" y="433.30" width="3.6" height="11.67" fill="#5aaad4" stroke="#2f6f9a" stroke-width="0.7"/><rect x="535.20" y="433.30" width="3.6" height="10.81" fill="#5aaad4" stroke="#2f6f9a" stroke-width="0.7"/><rect x="538.81" y="433.30" width="3.6" height="7.64" fill="#5aaad4" stroke="#2f6f9a" stroke-width="0.7"/><rect x="542.41" y="433.30" width="3.6" height="3.82" fill="#5aaad4" stroke="#2f6f9a" stroke-width="0.7"/><rect x="546.02" y="432.72" width="3.6" height="1.38" fill="#5aaad4" stroke="#2f6f9a" stroke-width="0.7"/><rect x="549.62" y="430.33" width="3.6" height="3.77" fill="#5aaad4" stroke="#2f6f9a" stroke-width="0.7"/><rect x="553.23" y="429.03" width="3.6" height="5.07" fill="#5aaad4" stroke="#2f6f9a" stroke-width="0.7"/><rect x="556.83" y="429.18" width="3.6" height="4.92" fill="#5aaad4" stroke="#2f6f9a" stroke-width="0.7"/><rect x="560.43" y="425.99" width="3.6" height="8.11" fill="#5aaad4" stroke="#2f6f9a" stroke-width="0.7"/><rect x="564.04" y="424.94" width="3.6" height="9.16" fill="#5aaad4" stroke="#2f6f9a" stroke-width="0.7"/><rect x="567.64" y="424.28" width="3.6" height="9.82" fill="#5aaad4" stroke="#2f6f9a" stroke-width="0.7"/><rect x="571.25" y="423.97" width="3.6" height="10.13" fill="#5aaad4" stroke="#2f6f9a" stroke-width="0.7"/><rect x="574.85" y="424.88" width="3.6" height="9.22" fill="#5aaad4" stroke="#2f6f9a" stroke-width="0.7"/><rect x="578.46" y="425.23" width="3.6" height="8.87" fill="#5aaad4" stroke="#2f6f9a" stroke-width="0.7"/><rect x="582.06" y="426.39" width="3.6" height="7.71" fill="#5aaad4" stroke="#2f6f9a" stroke-width="0.7"/><rect x="585.67" y="426.82" width="3.6" height="7.28" fill="#5aaad4" stroke="#2f6f9a" stroke-width="0.7"/><rect x="589.27" y="429.73" width="3.6" height="4.37" fill="#5aaad4" stroke="#2f6f9a" stroke-width="0.7"/><rect x="592.87" y="432.00" width="3.6" height="2.10" fill="#5aaad4" stroke="#2f6f9a" stroke-width="0.7"/><rect x="596.48" y="433.30" width="3.6" height="1.63" fill="#5aaad4" stroke="#2f6f9a" stroke-width="0.7"/><rect x="600.08" y="433.30" width="3.6" height="1.27" fill="#5aaad4" stroke="#2f6f9a" stroke-width="0.7"/><polyline points="-0.07,398.86 3.54,398.07 7.14,397.21 10.75,396.15 14.35,395.15 17.95,394.99 21.56,394.99 25.16,394.91 28.77,395.09 32.37,395.81 35.98,396.84 39.58,397.11 43.19,396.95 46.79,396.79 50.40,396.64 54.00,396.68 57.60,396.65 61.21,396.29 64.81,395.87 68.42,396.03 72.02,396.38 75.63,396.40 79.23,396.64 82.84,397.12 86.44,397.28 90.04,397.40 93.65,397.72 97.25,398.53 100.86,399.39 104.46,400.04 108.07,400.15 111.67,399.84 115.28,399.43 118.88,399.20 122.48,399.32 126.09,399.30 129.69,399.21 133.30,399.27 136.90,399.85 140.51,400.75 144.11,402.49 147.72,404.19 151.32,405.86 154.93,407.42 158.53,409.36 162.13,411.11 165.74,413.43 169.34,416.61 172.95,420.31 176.55,424.44 180.16,428.74 183.76,433.37 187.37,437.53 190.97,440.61 194.57,442.83 198.18,444.58 201.78,445.44 205.39,445.51 208.99,445.81 212.60,446.39 216.20,446.64 219.81,446.04 223.41,444.40 227.02,442.11 230.62,439.52 234.22,436.59 237.83,433.54 241.43,430.56 245.04,427.56 248.64,424.14 252.25,420.75 255.85,417.53 259.46,414.57 263.06,411.86 266.67,409.62 270.27,408.22 273.87,407.13 277.48,406.34 281.08,406.21 284.69,406.86 288.29,407.63 291.90,408.43 295.50,409.20 299.11,409.36 302.71,409.20 306.31,408.95 309.92,408.59 313.52,408.10 317.13,407.17 320.73,405.96 324.34,404.71 327.94,403.18 331.55,401.49 335.15,399.99 338.75,398.85 342.36,398.23 345.96,397.84 349.57,397.62 353.17,397.55 356.78,397.87 360.38,398.37 363.99,398.70 367.59,398.72 371.20,398.35 374.80,397.77 378.40,397.13 382.01,396.04 385.61,395.26 389.22,394.53 392.82,393.79 396.43,392.84 400.03,392.65 403.64,393.45 407.24,395.29 410.85,397.22 414.45,399.27 418.05,402.57 421.66,406.83 425.26,410.96 428.87,414.79 432.47,418.54 436.08,421.26 439.68,423.94 443.29,427.42 446.89,432.76 450.49,438.47 454.10,444.49 457.70,449.22 461.31,452.63 464.91,454.99 468.52,455.65 472.12,454.97 475.73,452.60 479.33,449.15 482.94,444.65 486.54,439.81 490.14,434.77 493.75,430.34 497.35,425.93 500.96,421.95 504.56,418.38 508.17,415.61 511.77,413.53 515.38,411.50 518.98,410.80 522.58,411.09 526.19,412.21 529.79,414.73 533.40,417.45 537.00,419.95 540.61,421.66 544.21,422.42 547.82,422.28 551.42,421.53 555.02,420.46 558.63,419.43 562.23,417.61 565.84,415.52 569.44,413.26 573.05,410.93 576.65,408.83 580.26,406.81 583.86,405.08 587.47,403.46 591.07,402.57 594.67,402.24 598.28,402.45 601.88,402.57" fill="none" stroke="#e05858" stroke-width="1.2"/><polyline points="-0.07,396.82 3.54,394.92 7.14,393.75 10.75,391.91 14.35,391.17 17.95,394.33 21.56,395.00 25.16,394.57 28.77,395.83 32.37,398.67 35.98,400.99 39.58,398.18 43.19,396.30 46.79,396.16 50.40,396.06 54.00,396.81 57.60,396.55 61.21,394.83 64.81,394.22 68.42,396.66 72.02,397.75 75.63,396.52 79.23,397.57 82.84,399.07 86.44,397.92 90.04,397.89 93.65,398.97 97.25,401.80 100.86,402.84 104.46,402.62 108.07,400.61 111.67,398.60 115.28,397.78 118.88,398.29 122.48,399.79 126.09,399.21 129.69,398.87 133.30,399.50 136.90,402.17 140.51,404.36 144.11,409.45 147.72,411.00 151.32,412.56 154.93,413.66 158.53,417.09 162.13,418.13 165.74,422.71 169.34,429.35 172.95,435.08 176.55,440.94 180.16,445.98 183.76,451.86 187.37,454.19 190.97,452.94 194.57,451.68 198.18,451.59 201.78,448.86 205.39,445.78 208.99,447.04 212.60,448.70 216.20,447.64 219.81,443.63 223.41,437.86 227.02,432.96 230.62,429.12 234.22,424.91 237.83,421.30 241.43,418.66 245.04,415.57 248.64,410.43 252.25,407.18 255.85,404.65 259.46,402.76 263.06,400.99 266.67,400.66 270.27,402.64 273.87,402.78 277.48,403.18 281.08,405.69 284.69,409.46 288.29,410.70 291.90,411.64 295.50,412.26 299.11,410.00 302.71,408.55 306.31,407.97 309.92,407.16 313.52,406.13 317.13,403.46 320.73,401.11 324.34,399.73 327.94,397.06 331.55,394.73 335.15,394.00 338.75,394.28 342.36,395.74 345.96,396.29 349.57,396.74 353.17,397.27 356.78,399.16 360.38,400.34 363.99,400.02 367.59,398.83 371.20,396.85 374.80,395.45 378.40,394.59 382.01,391.65 385.61,392.17 389.22,391.58 392.82,390.84 396.43,389.04 400.03,391.88 403.64,396.65 407.24,402.68 410.85,404.94 414.45,407.44 418.05,415.80 421.66,423.87 425.26,427.46 428.87,430.13 432.47,433.54 436.08,432.14 439.68,434.64 443.29,441.34 446.89,454.10 450.49,461.31 454.10,468.57 457.70,468.17 461.31,466.27 464.91,464.40 468.52,458.31 472.12,452.26 475.73,443.13 479.33,435.34 482.94,426.66 486.54,420.45 490.14,414.61 493.75,412.63 497.35,408.28 500.96,406.00 504.56,404.10 508.17,404.54 511.77,405.22 515.38,403.40 518.98,407.98 522.58,412.28 526.19,416.68 529.79,424.82 533.40,428.32 537.00,429.97 540.61,428.51 544.21,425.44 547.82,421.70 551.42,418.56 555.02,416.20 558.63,415.31 562.23,410.30 565.84,407.16 569.44,404.24 573.05,401.60 576.65,400.40 580.26,398.74 583.86,398.17 587.47,396.97 591.07,399.00 594.67,400.94 598.28,403.29 601.88,403.04" fill="none" stroke="#111" stroke-width="1.6"/></g><line x1="1.0" y1="382.5" x2="607.5" y2="382.5" stroke="#c4c4c4" stroke-width="1" stroke-dasharray="1.5,1.5"/><line x1="1.0" y1="474.2" x2="607.5" y2="474.2" stroke="#c4c4c4" stroke-width="1" stroke-dasharray="1.5,1.5"/><line x1="1.0" y1="382.5" x2="1.0" y2="474.2" stroke="#c8c8c8" stroke-width="1"/><text x="620.8" y="387.50" font-family="Liberation Sans, sans-serif" font-size="7.8" text-anchor="end" fill="#222">80</text><text x="620.8" y="399.40" font-family="Liberation Sans, sans-serif" font-size="7.8" text-anchor="end" fill="#222">60</text><text x="620.8" y="411.30" font-family="Liberation Sans, sans-serif" font-size="7.8" text-anchor="end" fill="#222">40</text><text x="620.8" y="423.20" font-family="Liberation Sans, sans-serif" font-size="7.8" text-anchor="end" fill="#222">20</text><text x="620.8" y="447.00" font-family="Liberation Sans, sans-serif" font-size="7.8" text-anchor="end" fill="#222">-20</text><text x="620.8" y="458.90" font-family="Liberation Sans, sans-serif" font-size="7.8" text-anchor="end" fill="#222">-40</text><text x="620.8" y="470.80" font-family="Liberation Sans, sans-serif" font-size="7.8" text-anchor="end" fill="#222">-60</text><path d="M605.5,403.04 L608.5,399.24 L634.3524,399.24 L634.3524,406.84 L608.5,406.84 Z" fill="#fff" stroke="#000" stroke-width="1" stroke-linejoin="round"/><text x="608.5" y="405.84" font-family="Liberation Sans, sans-serif" font-size="7.8" font-weight="bold" fill="#111">50.859</text><path d="M605.5,433.77 L608.5,429.97 L632.613,429.97 L632.613,437.57 L608.5,437.57 Z" fill="#fff" stroke="#5a9ac8" stroke-width="1" stroke-linejoin="round"/><text x="608.5" y="436.57" font-family="Liberation Sans, sans-serif" font-size="7.8" font-weight="bold" fill="#111">-0.790</text><text x="14.35" y="481.2" font-family="Liberation Sans, sans-serif" font-size="7.2" font-weight="normal" text-anchor="middle" fill="#222">12</text><text x="32.37" y="481.2" font-family="Liberation Sans, sans-serif" font-size="7.2" font-weight="normal" text-anchor="middle" fill="#222">20</text><text x="46.79" y="481.2" font-family="Liberation Sans, sans-serif" font-size="7.2" font-weight="normal" text-anchor="middle" fill="#222">26</text><text x="61.21" y="481.2" font-family="Liberation Sans, sans-serif" font-size="8" font-weight="bold" text-anchor="middle" fill="#222" stroke="#222" stroke-width="0.25">Mar</text><text x="82.84" y="481.2" font-family="Liberation Sans, sans-serif" font-size="7.2" font-weight="normal" text-anchor="middle" fill="#222">11</text><text x="100.86" y="481.2" font-family="Liberation Sans, sans-serif" font-size="7.2" font-weight="normal" text-anchor="middle" fill="#222">18</text><text x="118.88" y="481.2" font-family="Liberation Sans, sans-serif" font-size="7.2" font-weight="normal" text-anchor="middle" fill="#222">25</text><text x="133.30" y="481.2" font-family="Liberation Sans, sans-serif" font-size="8" font-weight="bold" text-anchor="middle" fill="#222" stroke="#222" stroke-width="0.25">Apr</text><text x="151.32" y="481.2" font-family="Liberation Sans, sans-serif" font-size="7.2" font-weight="normal" text-anchor="middle" fill="#222">8</text><text x="169.34" y="481.2" font-family="Liberation Sans, sans-serif" font-size="7.2" font-weight="normal" text-anchor="middle" fill="#222">15</text><text x="187.37" y="481.2" font-family="Liberation Sans, sans-serif" font-size="7.2" font-weight="normal" text-anchor="middle" fill="#222">22</text><text x="212.60" y="481.2" font-family="Liberation Sans, sans-serif" font-size="8" font-weight="bold" text-anchor="middle" fill="#222" stroke="#222" stroke-width="0.25">May</text><text x="223.41" y="481.2" font-family="Liberation Sans, sans-serif" font-size="7.2" font-weight="normal" text-anchor="middle" fill="#222">6</text><text x="241.43" y="481.2" font-family="Liberation Sans, sans-serif" font-size="7.2" font-weight="normal" text-anchor="middle" fill="#222">13</text><text x="259.46" y="481.2" font-family="Liberation Sans, sans-serif" font-size="7.2" font-weight="normal" text-anchor="middle" fill="#222">20</text><text x="277.48" y="481.2" font-family="Liberation Sans, sans-serif" font-size="7.2" font-weight="normal" text-anchor="middle" fill="#222">28</text><text x="291.90" y="481.2" font-family="Liberation Sans, sans-serif" font-size="8" font-weight="bold" text-anchor="middle" fill="#222" stroke="#222" stroke-width="0.25">Jun</text><text x="309.92" y="481.2" font-family="Liberation Sans, sans-serif" font-size="7.2" font-weight="normal" text-anchor="middle" fill="#222">10</text><text x="327.94" y="481.2" font-family="Liberation Sans, sans-serif" font-size="7.2" font-weight="normal" text-anchor="middle" fill="#222">17</text><text x="342.36" y="481.2" font-family="Liberation Sans, sans-serif" font-size="7.2" font-weight="normal" text-anchor="middle" fill="#222">24</text><text x="360.38" y="481.2" font-family="Liberation Sans, sans-serif" font-size="8" font-weight="bold" text-anchor="middle" fill="#222" stroke="#222" stroke-width="0.25">Jul</text><text x="374.80" y="481.2" font-family="Liberation Sans, sans-serif" font-size="7.2" font-weight="normal" text-anchor="middle" fill="#222">8</text><text x="392.82" y="481.2" font-family="Liberation Sans, sans-serif" font-size="7.2" font-weight="normal" text-anchor="middle" fill="#222">15</text><text x="410.85" y="481.2" font-family="Liberation Sans, sans-serif" font-size="7.2" font-weight="normal" text-anchor="middle" fill="#222">22</text><text x="428.87" y="481.2" font-family="Liberation Sans, sans-serif" font-size="7.2" font-weight="normal" text-anchor="middle" fill="#222">29</text><text x="439.68" y="481.2" font-family="Liberation Sans, sans-serif" font-size="8" font-weight="bold" text-anchor="middle" fill="#222" stroke="#222" stroke-width="0.25">Aug</text><text x="464.91" y="481.2" font-family="Liberation Sans, sans-serif" font-size="7.2" font-weight="normal" text-anchor="middle" fill="#222">12</text><text x="482.94" y="481.2" font-family="Liberation Sans, sans-serif" font-size="7.2" font-weight="normal" text-anchor="middle" fill="#222">19</text><text x="500.96" y="481.2" font-family="Liberation Sans, sans-serif" font-size="7.2" font-weight="normal" text-anchor="middle" fill="#222">26</text><text x="518.98" y="481.2" font-family="Liberation Sans, sans-serif" font-size="8" font-weight="bold" text-anchor="middle" fill="#222" stroke="#222" stroke-width="0.25">Sep</text><text x="533.40" y="481.2" font-family="Liberation Sans, sans-serif" font-size="7.2" font-weight="normal" text-anchor="middle" fill="#222">9</text><text x="551.42" y="481.2" font-family="Liberation Sans, sans-serif" font-size="7.2" font-weight="normal" text-anchor="middle" fill="#222">16</text><text x="569.44" y="481.2" font-family="Liberation Sans, sans-serif" font-size="7.2" font-weight="normal" text-anchor="middle" fill="#222">23</text><text x="591.07" y="481.2" font-family="Liberation Sans, sans-serif" font-size="8" font-weight="bold" text-anchor="middle" fill="#222" stroke="#222" stroke-width="0.25">Oct</text><text x="1" y="10.2" font-family="Liberation Sans, sans-serif" font-size="10.4" font-weight="bold" textLength="23.5" lengthAdjust="spacingAndGlyphs" fill="#000">$SPX</text><text x="27.8" y="9.8" font-family="Liberation Sans, sans-serif" font-size="8.3" textLength="88" lengthAdjust="spacingAndGlyphs" fill="#222">S&amp;P 500 Large Cap Index</text><text x="0" y="18.7" font-family="Liberation Sans, sans-serif" font-size="7.8" fill="#222">4-Oct-2024</text><text x="607" y="17.5" font-family="Liberation Sans, sans-serif" font-size="7.8" text-anchor="end" fill="#444">©StockCharts.com</text><text x="11.9" y="28.1" font-family="Liberation Sans, sans-serif" font-size="8" textLength="57.5" lengthAdjust="spacing" fill="#222" stroke="#222" stroke-width="0.15">RSI(14) 62.35</text><path d="M2,28 L5,22.5 L8,28 Z" fill="#5a8f5a" stroke="#333" stroke-width="0.8"/><text x="11.7" y="120.1" font-family="Liberation Sans, sans-serif" font-size="8" textLength="86" lengthAdjust="spacing" fill="#111" stroke="#111" stroke-width="0.2">$SPX (Daily) 5751.07</text><path d="M3.5,114 v6 M4,115.5 h2 v3.5 h-2 z" stroke="#000" stroke-width="1" fill="#000"/><path d="M7.5,114.5 v5.5 M6.8,116 h1.6 v2.5 h-1.6 z" stroke="#000" stroke-width="0.9" fill="#fff"/><text x="10.2" y="127.5" font-family="Liberation Sans, sans-serif" font-size="7" textLength="50" lengthAdjust="spacing" fill="#3a3a98" stroke="#3a3a98" stroke-width="0.2">MA(50) 5553.93</text><text x="10.2" y="134.9" font-family="Liberation Sans, sans-serif" font-size="7" textLength="53.8" lengthAdjust="spacing" fill="#c83050" stroke="#c83050" stroke-width="0.2">MA(200) 5254.06</text><text x="10.2" y="142.7" font-family="Liberation Sans, sans-serif" font-size="7" textLength="50" lengthAdjust="spacing" fill="#2a7a2a" stroke="#2a7a2a" stroke-width="0.2">MA(20) 5666.68</text><line x1="3" y1="124.9" x2="9" y2="124.9" stroke="#4848a8" stroke-width="1.5"/><line x1="3" y1="132.2" x2="9" y2="132.2" stroke="#d04858" stroke-width="1.5"/><line x1="3" y1="140" x2="9" y2="140" stroke="#3a8a3a" stroke-width="1.5"/><line x1="3.5" y1="387.8" x2="8.5" y2="387.8" stroke="#000" stroke-width="1.5"/><text x="12" y="390.6" font-family="Liberation Sans, sans-serif" font-size="8" letter-spacing="0.5" textLength="158.3" lengthAdjust="spacing" fill="#222" stroke="#222" stroke-width="0.2">MACD(12,26,9) 50.859, <tspan fill="#e04848" stroke="#e04848">51.649</tspan>, <tspan fill="#4a9ed0" stroke="#4a9ed0">-0.790</tspan></text></svg></body></html>
